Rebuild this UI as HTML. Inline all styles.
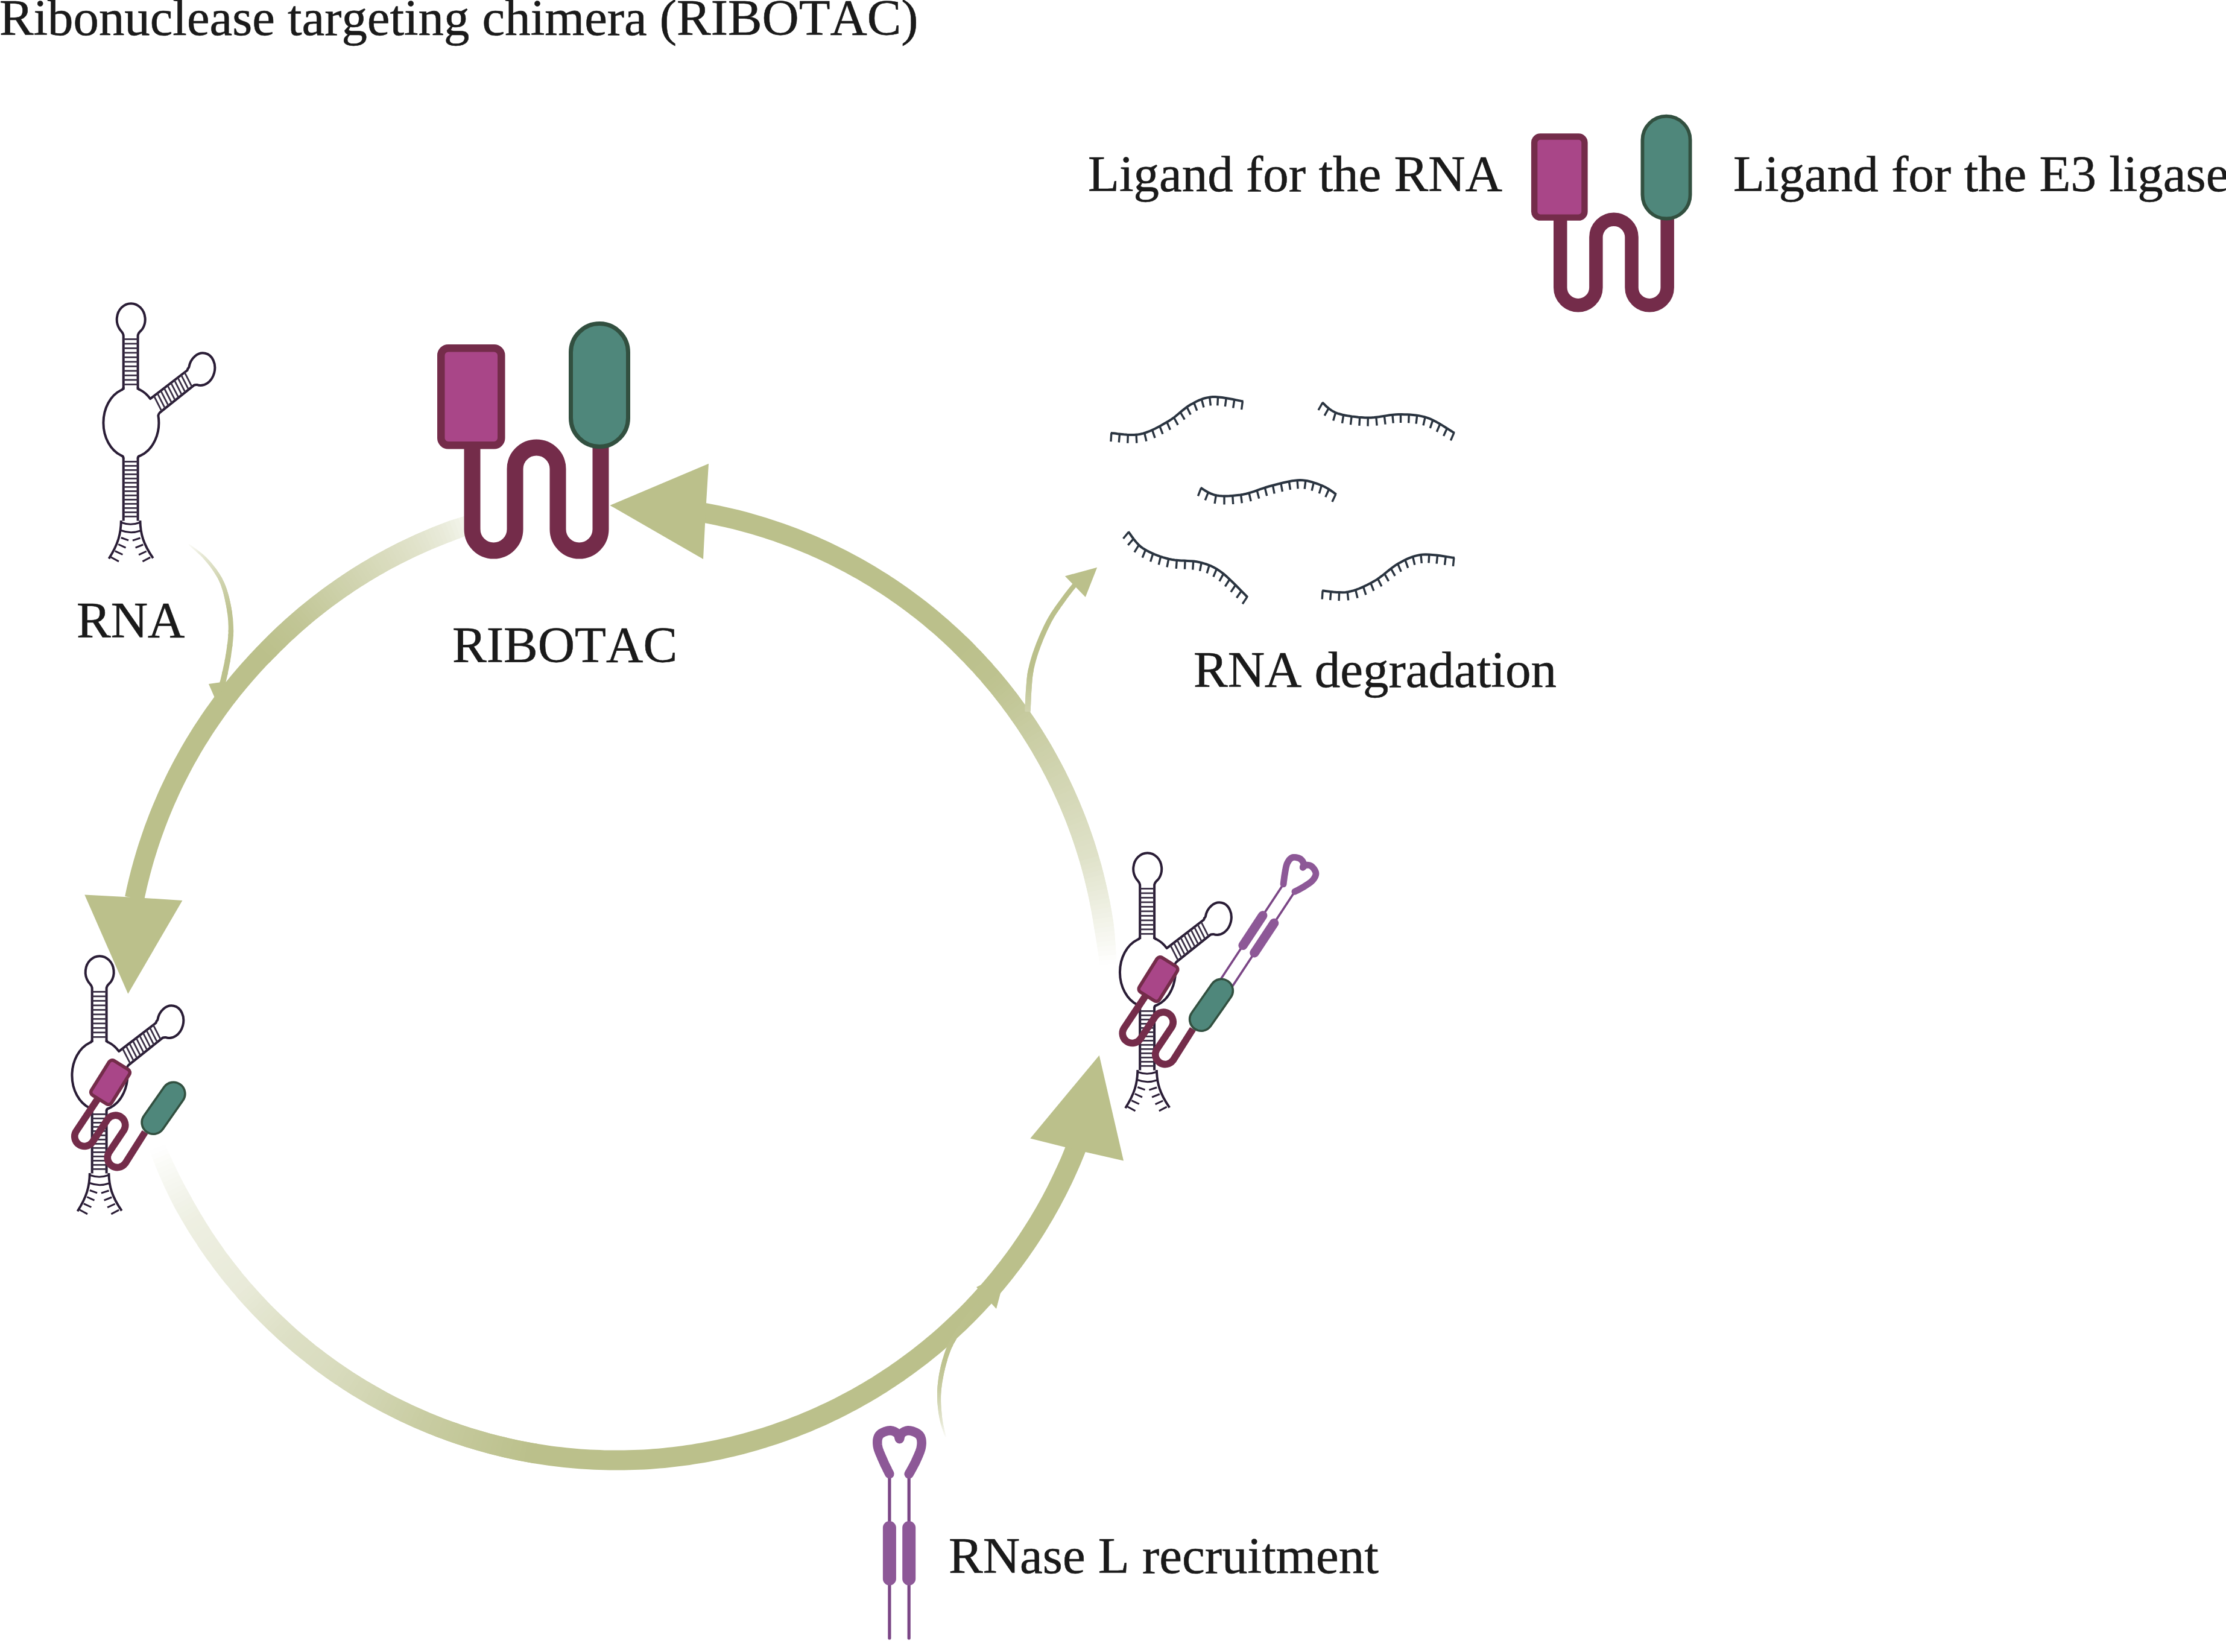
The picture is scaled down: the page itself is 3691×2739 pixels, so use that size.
<!DOCTYPE html>
<html><head><meta charset="utf-8"><title>RIBOTAC</title>
<style>html,body{margin:0;padding:0;background:#fff}body{width:3691px;height:2739px;overflow:hidden}svg{display:block}</style>
</head><body>
<svg width="3691" height="2739" viewBox="0 0 3691 2739">
<defs><g id="ribo">
<path d="M783,740 V877.5 A35.5,35.5 0 0 0 854,877.5 V777.5 A35.5,35.5 0 0 1 925,777.5 V877.5 A35.5,35.5 0 0 0 996,877.5 V740" fill="none" stroke="#742c4a" stroke-width="27"/>
<rect x="731.25" y="577.25" width="100" height="161" rx="12" fill="#a94688" stroke="#742c4a" stroke-width="12.5"/>
<rect x="946.5" y="536.5" width="95" height="204" rx="47.5" fill="#4f877b" stroke="#325040" stroke-width="7"/>
</g><g id="rna" fill="none" stroke="#2a1d36" stroke-width="4.0" stroke-linecap="butt" stroke-linejoin="round"><path d="M204.7,646 V557 C204.7,551 200,549 198,545 A23.5,26.5 0 1 1 236.4,545 C234,549 228.6,551 228.6,557 V646"/><path d="M204.7,642 C204.7,645.5 203,646.2 201,646.7 A45.6,58 0 0 0 201,755.3 C203,755.8 204.7,756.5 204.7,760"/><path d="M228.6,642 C228.6,645 230,645.8 232,646.2 A45.6,58 0 0 1 249.2,661.2 L310.5,614 C311.5,611 312,610 313.2,609.3 A21.5,27 12 1 1 326.5,637.9 C325,638 323,638 321.8,638.6 L265.2,683.9 C263.5,685.5 262.8,687 262.4,689 A45.6,58 0 0 1 232,755.8 C230,756.2 228.6,757 228.6,760"/><path d="M204.7,759 V863.6 M228.6,759 V863.6"/><path d="M200.8,863 C200.5,885 196,902 180.5,926.3 M232.4,863 C232.8,885 237.5,902 253.8,925.4" stroke-width="3.9"/><path d="M201.7,866.5 Q216.5,872 231.4,866.5 M200.8,879.5 Q216.5,885.5 232.6,880" stroke-width="3"/><path d="M200.8,891.5 L213.1,895.8 M196.2,902.5 L208.5,908.1 M190.7,913.6 L203.4,919.5 M183.9,923.7 L197.0,930.9 M232.6,892.0 L219.9,896.2 M237.3,903.0 L224.6,908.1 M242.8,914.0 L230.1,919.9 M249.2,924.2 L236.4,930.9" stroke-width="3"/><path d="M216.65,561 V642" stroke-width="23.9" stroke-dasharray="2.8 4.7" stroke="#3a2f45"/><path d="M216.65,764 V862" stroke-width="23.9" stroke-dasharray="2.8 4.2" stroke="#3a2f45"/><path d="M255.3,656.5 L268.1,681.6 M261.0,652.1 L273.7,677.1 M266.6,647.8 L279.3,672.6 M272.2,643.5 L284.8,668.2 M277.9,639.1 L290.4,663.7 M283.5,634.8 L296.0,659.2 M289.2,630.4 L301.6,654.8 M294.8,626.1 L307.2,650.3 M300.4,621.7 L312.7,645.9 M306.1,617.4 L318.3,641.4" stroke-width="2.8" stroke="#3a2f45"/></g><g id="mini">
<path d="M214,740 L178,794 A16.25,16.25 0 0 0 205,812 L230.5,773.7 A16.25,16.25 0 0 1 257.5,791.7 L232.5,829.1 A16.25,16.25 0 0 0 259.5,847.1 L292.5,795" fill="none" stroke="#742c4a" stroke-width="11.6"/>
<rect x="-19.7" y="-33.7" width="39.4" height="67.4" rx="6" transform="translate(235,712.5) rotate(32)" fill="#a94688" stroke="#742c4a" stroke-width="5.6"/>
<rect x="-19.2" y="-48.2" width="38.4" height="96.4" rx="19.2" transform="translate(323,755.3) rotate(35)" fill="#4f877b" stroke="#325040" stroke-width="3.6"/>
</g><g id="rnasel" fill="none" stroke-linecap="round" stroke-linejoin="round">
<path d="M1474.9,2440 V2716 M1507.2,2440 V2716" stroke="#7b4686" stroke-width="5.2"/>
<path d="M1474.9,2533 V2617.5 M1507.2,2533 V2617.5" stroke="#8d5897" stroke-width="22"/>
<path d="M1474.9,2443.8 L1474.1,2442.1 L1473.0,2440.0 L1471.7,2437.4 L1470.3,2434.4 L1468.8,2431.4 L1467.2,2428.2 L1465.8,2425.1 L1464.5,2422.1 L1463.2,2419.1 L1461.8,2416.1 L1460.5,2412.9 L1459.1,2409.8 L1457.9,2406.7 L1456.8,2403.6 L1455.9,2400.7 L1455.3,2397.9 L1455.0,2395.3 L1454.8,2392.7 L1454.8,2390.3 L1454.9,2387.9 L1455.3,2385.6 L1455.9,2383.5 L1456.7,2381.6 L1457.7,2379.8 L1459.1,2378.3 L1460.9,2376.8 L1463.0,2375.6 L1465.3,2374.4 L1467.6,2373.5 L1469.9,2372.8 L1472.1,2372.2 L1474.1,2371.9 L1476.0,2371.8 L1477.9,2372.0 L1479.8,2372.4 L1481.6,2373.0 L1483.3,2373.7 L1484.8,2374.5 L1486.2,2375.4 L1487.4,2376.2 L1488.4,2377.2 L1489.2,2378.4 L1489.8,2379.7 L1490.3,2381.1 L1490.7,2382.4 L1491.0,2383.6 L1491.3,2384.6 L1491.5,2385.4" stroke="#8d5897" stroke-width="15.5"/>
<path d="M1507.2,2443.8 L1508.1,2442.1 L1509.4,2440.0 L1510.8,2437.4 L1512.5,2434.4 L1514.1,2431.4 L1515.8,2428.2 L1517.4,2425.1 L1518.8,2422.1 L1520.1,2419.1 L1521.5,2416.1 L1522.9,2412.9 L1524.2,2409.8 L1525.4,2406.7 L1526.4,2403.6 L1527.2,2400.7 L1527.7,2397.9 L1528.0,2395.3 L1528.2,2392.7 L1528.1,2390.3 L1527.9,2387.9 L1527.5,2385.6 L1526.8,2383.5 L1526.0,2381.6 L1524.8,2379.8 L1523.4,2378.3 L1521.5,2376.8 L1519.3,2375.6 L1517.0,2374.4 L1514.6,2373.5 L1512.2,2372.8 L1509.9,2372.2 L1507.9,2371.9 L1506.1,2371.8 L1504.3,2372.0 L1502.5,2372.4 L1500.9,2373.0 L1499.3,2373.7 L1497.8,2374.5 L1496.5,2375.4 L1495.4,2376.2 L1494.5,2377.2 L1493.7,2378.4 L1493.1,2379.7 L1492.7,2381.1 L1492.3,2382.4 L1492.0,2383.6 L1491.8,2384.6 L1491.5,2385.4" stroke="#8d5897" stroke-width="15.5"/>
</g></defs>
<rect width="3691" height="2739" fill="#fff"/>
<polygon points="1851.2,1598.5 1850.9,1590.6 1850.6,1582.7 1821.5,1585.2 1822.4,1592.8 1823.2,1600.5" fill="#fefefe"/>
<polygon points="1850.9,1590.6 1850.6,1582.7 1850.2,1574.8 1820.5,1577.6 1821.5,1585.2 1822.4,1592.8" fill="#fdfdfb"/>
<polygon points="1850.6,1582.7 1850.2,1574.8 1849.7,1566.9 1819.4,1570.0 1820.5,1577.6 1821.5,1585.2" fill="#fbfbf8"/>
<polygon points="1850.2,1574.8 1849.7,1566.9 1849.1,1558.9 1818.3,1562.5 1819.4,1570.0 1820.5,1577.6" fill="#fafaf6"/>
<polygon points="1849.7,1566.9 1849.1,1558.9 1848.5,1551.0 1817.1,1554.9 1818.3,1562.5 1819.4,1570.0" fill="#f8f9f3"/>
<polygon points="1849.1,1558.9 1848.5,1551.0 1847.7,1543.1 1815.8,1547.4 1817.1,1554.9 1818.3,1562.5" fill="#f7f7f1"/>
<polygon points="1848.5,1551.0 1847.7,1543.1 1846.9,1535.2 1814.5,1539.9 1815.8,1547.4 1817.1,1554.9" fill="#f6f6ef"/>
<polygon points="1847.7,1543.1 1846.9,1535.2 1845.9,1527.3 1813.3,1532.3 1814.5,1539.9 1815.8,1547.4" fill="#f4f5ed"/>
<polygon points="1846.9,1535.2 1845.9,1527.3 1844.6,1519.5 1812.1,1524.8 1813.3,1532.3 1814.5,1539.9" fill="#f3f4ea"/>
<polygon points="1845.9,1527.3 1844.6,1519.5 1843.3,1511.6 1810.8,1517.3 1812.1,1524.8 1813.3,1532.3" fill="#f2f3e8"/>
<polygon points="1844.6,1519.5 1843.3,1511.6 1841.9,1503.8 1809.5,1509.8 1810.8,1517.3 1812.1,1524.8" fill="#f0f1e6"/>
<polygon points="1843.3,1511.6 1841.9,1503.8 1840.5,1496.0 1808.0,1502.3 1809.5,1509.8 1810.8,1517.3" fill="#eff0e4"/>
<polygon points="1841.9,1503.8 1840.5,1496.0 1838.9,1488.2 1806.6,1494.8 1808.0,1502.3 1809.5,1509.8" fill="#eeefe1"/>
<polygon points="1840.5,1496.0 1838.9,1488.2 1837.3,1480.4 1805.0,1487.3 1806.6,1494.8 1808.0,1502.3" fill="#eceedf"/>
<polygon points="1838.9,1488.2 1837.3,1480.4 1835.6,1472.7 1803.4,1479.8 1805.0,1487.3 1806.6,1494.8" fill="#ebecdd"/>
<polygon points="1837.3,1480.4 1835.6,1472.7 1833.8,1464.9 1801.7,1472.4 1803.4,1479.8 1805.0,1487.3" fill="#eaebdb"/>
<polygon points="1835.6,1472.7 1833.8,1464.9 1832.0,1457.2 1799.9,1465.0 1801.7,1472.4 1803.4,1479.8" fill="#e8ead8"/>
<polygon points="1833.8,1464.9 1832.0,1457.2 1830.1,1449.5 1798.1,1457.6 1799.9,1465.0 1801.7,1472.4" fill="#e7e9d6"/>
<polygon points="1832.0,1457.2 1830.1,1449.5 1828.1,1441.8 1796.2,1450.2 1798.1,1457.6 1799.9,1465.0" fill="#e6e8d4"/>
<polygon points="1830.1,1449.5 1828.1,1441.8 1826.1,1434.1 1794.2,1442.8 1796.2,1450.2 1798.1,1457.6" fill="#e4e6d2"/>
<polygon points="1828.1,1441.8 1826.1,1434.1 1823.9,1426.4 1792.2,1435.4 1794.2,1442.8 1796.2,1450.2" fill="#e3e5cf"/>
<polygon points="1826.1,1434.1 1823.9,1426.4 1821.7,1418.8 1790.1,1428.1 1792.2,1435.4 1794.2,1442.8" fill="#e2e4cd"/>
<polygon points="1823.9,1426.4 1821.7,1418.8 1819.4,1411.2 1787.9,1420.8 1790.1,1428.1 1792.2,1435.4" fill="#e0e3cb"/>
<polygon points="1821.7,1418.8 1819.4,1411.2 1817.1,1403.6 1785.6,1413.5 1787.9,1420.8 1790.1,1428.1" fill="#dfe1c8"/>
<polygon points="1819.4,1411.2 1817.1,1403.6 1814.7,1396.0 1783.3,1406.2 1785.6,1413.5 1787.9,1420.8" fill="#dee1c7"/>
<polygon points="1817.1,1403.6 1814.7,1396.0 1812.2,1388.5 1780.9,1399.0 1783.3,1406.2 1785.6,1413.5" fill="#dee0c6"/>
<polygon points="1814.7,1396.0 1812.2,1388.5 1809.6,1381.0 1778.4,1391.8 1780.9,1399.0 1783.3,1406.2" fill="#dddfc5"/>
<polygon points="1812.2,1388.5 1809.6,1381.0 1807.0,1373.5 1775.9,1384.6 1778.4,1391.8 1780.9,1399.0" fill="#dcdfc3"/>
<polygon points="1809.6,1381.0 1807.0,1373.5 1804.3,1366.0 1773.3,1377.4 1775.9,1384.6 1778.4,1391.8" fill="#dbdec2"/>
<polygon points="1807.0,1373.5 1804.3,1366.0 1801.5,1358.6 1770.6,1370.2 1773.3,1377.4 1775.9,1384.6" fill="#dbddc1"/>
<polygon points="1804.3,1366.0 1801.5,1358.6 1798.6,1351.1 1767.9,1363.1 1770.6,1370.2 1773.3,1377.4" fill="#daddc0"/>
<polygon points="1801.5,1358.6 1798.6,1351.1 1795.7,1343.7 1765.1,1356.0 1767.9,1363.1 1770.6,1370.2" fill="#d9dcbe"/>
<polygon points="1798.6,1351.1 1795.7,1343.7 1792.7,1336.4 1762.2,1348.9 1765.1,1356.0 1767.9,1363.1" fill="#d8dbbd"/>
<polygon points="1795.7,1343.7 1792.7,1336.4 1789.7,1329.0 1759.3,1341.9 1762.2,1348.9 1765.1,1356.0" fill="#d8dabc"/>
<polygon points="1792.7,1336.4 1789.7,1329.0 1786.5,1321.7 1756.3,1334.9 1759.3,1341.9 1762.2,1348.9" fill="#d7daba"/>
<polygon points="1789.7,1329.0 1786.5,1321.7 1783.3,1314.5 1753.2,1327.9 1756.3,1334.9 1759.3,1341.9" fill="#d6d9b9"/>
<polygon points="1786.5,1321.7 1783.3,1314.5 1780.1,1307.2 1750.0,1321.0 1753.2,1327.9 1756.3,1334.9" fill="#d5d8b8"/>
<polygon points="1783.3,1314.5 1780.1,1307.2 1776.7,1300.0 1746.8,1314.0 1750.0,1321.0 1753.2,1327.9" fill="#d5d8b7"/>
<polygon points="1780.1,1307.2 1776.7,1300.0 1773.3,1292.8 1743.6,1307.1 1746.8,1314.0 1750.0,1321.0" fill="#d4d7b5"/>
<polygon points="1776.7,1300.0 1773.3,1292.8 1769.8,1285.7 1740.2,1300.3 1743.6,1307.1 1746.8,1314.0" fill="#d3d6b4"/>
<polygon points="1773.3,1292.8 1769.8,1285.7 1766.3,1278.6 1736.8,1293.4 1740.2,1300.3 1743.6,1307.1" fill="#d2d6b3"/>
<polygon points="1769.8,1285.7 1766.3,1278.6 1762.7,1271.5 1733.3,1286.6 1736.8,1293.4 1740.2,1300.3" fill="#d2d5b2"/>
<polygon points="1766.3,1278.6 1762.7,1271.5 1759.0,1264.5 1729.8,1279.9 1733.3,1286.6 1736.8,1293.4" fill="#d1d4b0"/>
<polygon points="1762.7,1271.5 1759.0,1264.5 1755.2,1257.4 1726.2,1273.1 1729.8,1279.9 1733.3,1286.6" fill="#d0d4af"/>
<polygon points="1759.0,1264.5 1755.2,1257.4 1751.4,1250.5 1722.6,1266.4 1726.2,1273.1 1729.8,1279.9" fill="#cfd3ae"/>
<polygon points="1755.2,1257.4 1751.4,1250.5 1747.5,1243.5 1718.8,1259.8 1722.6,1266.4 1726.2,1273.1" fill="#cfd2ac"/>
<polygon points="1751.4,1250.5 1747.5,1243.5 1743.6,1236.6 1715.0,1253.2 1718.8,1259.8 1722.6,1266.4" fill="#ced1ab"/>
<polygon points="1747.5,1243.5 1743.6,1236.6 1739.6,1229.8 1711.2,1246.6 1715.0,1253.2 1718.8,1259.8" fill="#cdd1aa"/>
<polygon points="1743.6,1236.6 1739.6,1229.8 1735.5,1223.0 1707.3,1240.0 1711.2,1246.6 1715.0,1253.2" fill="#ccd0a9"/>
<polygon points="1739.6,1229.8 1735.5,1223.0 1731.4,1216.2 1703.3,1233.5 1707.3,1240.0 1711.2,1246.6" fill="#cccfa7"/>
<polygon points="1735.5,1223.0 1731.4,1216.2 1727.2,1209.4 1699.2,1227.0 1703.3,1233.5 1707.3,1240.0" fill="#cbcfa6"/>
<polygon points="1731.4,1216.2 1727.2,1209.4 1722.9,1202.7 1695.1,1220.6 1699.2,1227.0 1703.3,1233.5" fill="#cacea5"/>
<polygon points="1727.2,1209.4 1722.9,1202.7 1718.6,1196.1 1691.0,1214.2 1695.1,1220.6 1699.2,1227.0" fill="#c9cda3"/>
<polygon points="1722.9,1202.7 1718.6,1196.1 1714.2,1189.4 1686.8,1207.8 1691.0,1214.2 1695.1,1220.6" fill="#c8cca2"/>
<polygon points="1718.6,1196.1 1714.2,1189.4 1709.7,1182.9 1682.5,1201.5 1686.8,1207.8 1691.0,1214.2" fill="#c8cca1"/>
<polygon points="1714.2,1189.4 1709.7,1182.9 1705.2,1176.3 1678.1,1195.2 1682.5,1201.5 1686.8,1207.8" fill="#c7cb9f"/>
<polygon points="1709.7,1182.9 1705.2,1176.3 1700.6,1169.8 1673.7,1189.0 1678.1,1195.2 1682.5,1201.5" fill="#c6ca9e"/>
<polygon points="1705.2,1176.3 1700.6,1169.8 1695.9,1163.4 1669.3,1182.8 1673.7,1189.0 1678.1,1195.2" fill="#c5c99c"/>
<polygon points="1700.6,1169.8 1695.9,1163.4 1691.2,1157.0 1664.7,1176.7 1669.3,1182.8 1673.7,1189.0" fill="#c4c99b"/>
<polygon points="1695.9,1163.4 1691.2,1157.0 1686.5,1150.6 1660.2,1170.6 1664.7,1176.7 1669.3,1182.8" fill="#c3c899"/>
<polygon points="1691.2,1157.0 1686.5,1150.6 1681.6,1144.3 1655.5,1164.5 1660.2,1170.6 1664.7,1176.7" fill="#c3c798"/>
<polygon points="1686.5,1150.6 1681.6,1144.3 1676.7,1138.1 1650.8,1158.5 1655.5,1164.5 1660.2,1170.6" fill="#c2c697"/>
<polygon points="1681.6,1144.3 1676.7,1138.1 1671.8,1131.8 1646.1,1152.5 1650.8,1158.5 1655.5,1164.5" fill="#c1c695"/>
<polygon points="1676.7,1138.1 1671.8,1131.8 1666.8,1125.7 1641.3,1146.6 1646.1,1152.5 1650.8,1158.5" fill="#c0c594"/>
<polygon points="1671.8,1131.8 1666.8,1125.7 1661.7,1119.6 1636.4,1140.7 1641.3,1146.6 1646.1,1152.5" fill="#bfc492"/>
<polygon points="1666.8,1125.7 1661.7,1119.6 1656.6,1113.5 1631.5,1134.9 1636.4,1140.7 1641.3,1146.6" fill="#bfc391"/>
<polygon points="1661.7,1119.6 1656.6,1113.5 1651.4,1107.5 1626.5,1129.1 1631.5,1134.9 1636.4,1140.7" fill="#bec390"/>
<polygon points="1656.6,1113.5 1651.4,1107.5 1646.2,1101.5 1640.9,1095.6 1616.4,1117.7 1621.5,1123.4 1626.5,1129.1 1631.5,1134.9" fill="#bdc28f"/>
<polygon points="1646.2,1101.5 1640.9,1095.6 1635.5,1089.7 1630.1,1083.9 1606.0,1106.4 1611.2,1112.0 1616.4,1117.7 1621.5,1123.4" fill="#bdc28e"/>
<polygon points="1635.5,1089.7 1630.1,1083.9 1624.6,1078.1 1600.8,1100.9 1606.0,1106.4 1611.2,1112.0" fill="#bcc18e"/>
<polygon points="1630.1,1083.9 1624.6,1078.1 1619.1,1072.4 1613.6,1066.7 1590.1,1090.0 1595.5,1095.4 1600.8,1100.9 1606.0,1106.4" fill="#bcc18d"/>
<polygon points="1619.1,1072.4 1613.6,1066.7 1607.9,1061.1 1584.7,1084.6 1590.1,1090.0 1595.5,1095.4" fill="#bcc18c"/>
<polygon points="1613.6,1066.7 1607.9,1061.1 1602.2,1055.5 1579.3,1079.2 1584.7,1084.6 1590.1,1090.0" fill="#bbc08c"/>
<polygon points="1607.9,1061.1 1602.2,1055.5 1596.5,1050.0 1590.7,1044.6 1584.9,1039.2 1579.0,1033.9 1573.1,1028.6 1567.1,1023.4 1561.0,1018.2 1554.9,1013.1 1548.8,1008.0 1542.6,1003.0 1536.4,998.1 1530.1,993.2 1523.8,988.4 1517.4,983.7 1511.0,979.0 1504.5,974.3 1498.0,969.8 1491.5,965.3 1484.9,960.8 1478.3,956.5 1471.6,952.1 1464.9,947.9 1458.1,943.7 1451.3,939.6 1444.5,935.5 1437.6,931.5 1430.7,927.6 1423.8,923.7 1416.8,919.9 1409.8,916.2 1402.7,912.6 1395.6,909.0 1388.5,905.4 1381.4,902.0 1374.2,898.6 1366.9,895.3 1359.7,892.0 1352.4,888.8 1345.1,885.7 1337.8,882.7 1330.4,879.7 1323.0,876.8 1315.6,874.0 1308.1,871.2 1300.6,868.5 1293.1,865.9 1285.6,863.4 1278.0,860.9 1270.5,858.5 1262.9,856.2 1255.2,853.9 1247.6,851.7 1239.9,849.6 1232.3,847.6 1224.6,845.6 1216.8,843.7 1209.1,841.9 1201.3,840.2 1193.6,838.5 1185.8,836.9 1178.0,835.4 1170.3,834.0 1164.3,866.4 1171.8,867.8 1179.3,869.3 1186.8,870.8 1194.3,872.4 1201.7,874.1 1209.1,875.8 1216.6,877.6 1224.0,879.5 1231.3,881.5 1238.7,883.5 1246.0,885.6 1253.3,887.8 1260.6,890.0 1267.9,892.3 1275.2,894.7 1282.4,897.1 1289.6,899.7 1296.8,902.2 1304.0,904.9 1311.1,907.6 1318.2,910.4 1325.3,913.2 1332.3,916.2 1339.3,919.1 1346.3,922.2 1353.3,925.3 1360.2,928.5 1367.1,931.8 1374.0,935.1 1380.9,938.5 1387.7,941.9 1394.4,945.4 1401.2,949.0 1407.9,952.7 1414.6,956.4 1421.2,960.1 1427.8,964.0 1434.4,967.9 1440.9,971.8 1447.4,975.9 1453.8,979.9 1460.2,984.1 1466.6,988.3 1472.9,992.6 1479.2,996.9 1485.5,1001.3 1491.7,1005.7 1497.8,1010.2 1503.9,1014.8 1510.0,1019.4 1516.0,1024.1 1522.0,1028.8 1528.0,1033.6 1533.9,1038.5 1539.7,1043.4 1545.5,1048.3 1551.3,1053.3 1557.0,1058.4 1562.6,1063.5 1568.2,1068.7 1573.8,1074.0 1579.3,1079.2 1584.7,1084.6" fill="#bbc08b"/>
<polygon points="1011.4,837.9 1175,768.8 1170,850 1166,926.9" fill="#bbc08b"/>
<polygon points="789.1,850.6 781.8,852.6 774.5,854.6 784.0,884.1 791.0,881.7 798.0,879.2" fill="#f7f8f2"/>
<polygon points="781.8,852.6 774.5,854.6 767.2,856.8 777.1,886.7 784.0,884.1 791.0,881.7" fill="#f6f6ef"/>
<polygon points="774.5,854.6 767.2,856.8 759.9,859.0 770.3,889.3 777.1,886.7 784.0,884.1" fill="#f4f5ed"/>
<polygon points="767.2,856.8 759.9,859.0 752.6,861.3 763.4,891.9 770.3,889.3 777.1,886.7" fill="#f3f4ea"/>
<polygon points="759.9,859.0 752.6,861.3 745.3,863.6 756.6,894.6 763.4,891.9 770.3,889.3" fill="#f0f2e6"/>
<polygon points="752.6,861.3 745.3,863.6 738.1,866.3 749.7,897.2 756.6,894.6 763.4,891.9" fill="#eef0e3"/>
<polygon points="745.3,863.6 738.1,866.3 731.0,869.0 742.8,899.8 749.7,897.2 756.6,894.6" fill="#eceedf"/>
<polygon points="738.1,866.3 731.0,869.0 723.9,871.8 736.0,902.4 742.8,899.8 749.7,897.2" fill="#eaecdc"/>
<polygon points="731.0,869.0 723.9,871.8 716.8,874.6 729.2,905.2 736.0,902.4 742.8,899.8" fill="#e9ead9"/>
<polygon points="723.9,871.8 716.8,874.6 709.7,877.5 722.4,908.0 729.2,905.2 736.0,902.4" fill="#e7e9d7"/>
<polygon points="716.8,874.6 709.7,877.5 702.7,880.5 715.7,910.8 722.4,908.0 729.2,905.2" fill="#e6e8d5"/>
<polygon points="709.7,877.5 702.7,880.5 695.7,883.5 708.9,913.7 715.7,910.8 722.4,908.0" fill="#e5e7d2"/>
<polygon points="702.7,880.5 695.7,883.5 688.7,886.6 702.2,916.7 708.9,913.7 715.7,910.8" fill="#e3e5d0"/>
<polygon points="695.7,883.5 688.7,886.6 681.8,889.8 695.6,919.7 702.2,916.7 708.9,913.7" fill="#e2e4ce"/>
<polygon points="688.7,886.6 681.8,889.8 674.9,893.0 688.9,922.8 695.6,919.7 702.2,916.7" fill="#e1e3cb"/>
<polygon points="681.8,889.8 674.9,893.0 668.0,896.3 682.3,926.0 688.9,922.8 695.6,919.7" fill="#e0e2c9"/>
<polygon points="674.9,893.0 668.0,896.3 661.1,899.6 675.7,929.2 682.3,926.0 688.9,922.8" fill="#dfe1c8"/>
<polygon points="668.0,896.3 661.1,899.6 654.3,903.1 669.1,932.5 675.7,929.2 682.3,926.0" fill="#dee0c6"/>
<polygon points="661.1,899.6 654.3,903.1 647.5,906.5 662.6,935.8 669.1,932.5 675.7,929.2" fill="#dddfc4"/>
<polygon points="654.3,903.1 647.5,906.5 640.7,910.1 656.1,939.2 662.6,935.8 669.1,932.5" fill="#dcdec3"/>
<polygon points="647.5,906.5 640.7,910.1 634.0,913.7 649.7,942.6 656.1,939.2 662.6,935.8" fill="#dbddc1"/>
<polygon points="640.7,910.1 634.0,913.7 627.3,917.3 643.2,946.1 649.7,942.6 656.1,939.2" fill="#dadcbf"/>
<polygon points="634.0,913.7 627.3,917.3 620.7,921.0 636.9,949.7 643.2,946.1 649.7,942.6" fill="#d9dbbd"/>
<polygon points="627.3,917.3 620.7,921.0 614.0,924.8 630.5,953.3 636.9,949.7 643.2,946.1" fill="#d8dbbc"/>
<polygon points="620.7,921.0 614.0,924.8 607.5,928.7 624.2,957.0 630.5,953.3 636.9,949.7" fill="#d7daba"/>
<polygon points="614.0,924.8 607.5,928.7 600.9,932.6 617.9,960.8 624.2,957.0 630.5,953.3" fill="#d6d9b8"/>
<polygon points="607.5,928.7 600.9,932.6 594.4,936.5 611.6,964.6 617.9,960.8 624.2,957.0" fill="#d5d8b7"/>
<polygon points="600.9,932.6 594.4,936.5 587.9,940.5 605.4,968.4 611.6,964.6 617.9,960.8" fill="#d4d7b5"/>
<polygon points="594.4,936.5 587.9,940.5 581.5,944.6 599.2,972.3 605.4,968.4 611.6,964.6" fill="#d3d6b4"/>
<polygon points="587.9,940.5 581.5,944.6 575.1,948.7 593.1,976.3 599.2,972.3 605.4,968.4" fill="#d2d5b2"/>
<polygon points="581.5,944.6 575.1,948.7 568.7,952.9 586.9,980.3 593.1,976.3 599.2,972.3" fill="#d1d4b0"/>
<polygon points="575.1,948.7 568.7,952.9 562.4,957.2 580.9,984.4 586.9,980.3 593.1,976.3" fill="#d0d3af"/>
<polygon points="568.7,952.9 562.4,957.2 556.1,961.5 574.8,988.5 580.9,984.4 586.9,980.3" fill="#cfd2ad"/>
<polygon points="562.4,957.2 556.1,961.5 549.9,965.9 568.8,992.7 574.8,988.5 580.9,984.4" fill="#ced2ab"/>
<polygon points="556.1,961.5 549.9,965.9 543.7,970.3 562.9,997.0 568.8,992.7 574.8,988.5" fill="#cdd1aa"/>
<polygon points="549.9,965.9 543.7,970.3 537.5,974.8 557.0,1001.3 562.9,997.0 568.8,992.7" fill="#ccd0a8"/>
<polygon points="543.7,970.3 537.5,974.8 531.4,979.3 551.1,1005.6 557.0,1001.3 562.9,997.0" fill="#cbcfa6"/>
<polygon points="537.5,974.8 531.4,979.3 525.3,983.9 545.2,1010.0 551.1,1005.6 557.0,1001.3" fill="#cacea5"/>
<polygon points="531.4,979.3 525.3,983.9 519.3,988.5 539.4,1014.5 545.2,1010.0 551.1,1005.6" fill="#c9cda3"/>
<polygon points="525.3,983.9 519.3,988.5 513.3,993.2 533.7,1019.0 539.4,1014.5 545.2,1010.0" fill="#c8cca1"/>
<polygon points="519.3,988.5 513.3,993.2 507.4,998.0 528.0,1023.5 533.7,1019.0 539.4,1014.5" fill="#c7cb9f"/>
<polygon points="513.3,993.2 507.4,998.0 501.5,1002.8 522.3,1028.1 528.0,1023.5 533.7,1019.0" fill="#c6ca9e"/>
<polygon points="507.4,998.0 501.5,1002.8 495.6,1007.6 516.7,1032.8 522.3,1028.1 528.0,1023.5" fill="#c5c99c"/>
<polygon points="501.5,1002.8 495.6,1007.6 489.8,1012.5 511.1,1037.5 516.7,1032.8 522.3,1028.1" fill="#c4c89a"/>
<polygon points="495.6,1007.6 489.8,1012.5 484.0,1017.5 505.6,1042.3 511.1,1037.5 516.7,1032.8" fill="#c3c798"/>
<polygon points="489.8,1012.5 484.0,1017.5 478.3,1022.5 500.1,1047.1 505.6,1042.3 511.1,1037.5" fill="#c2c697"/>
<polygon points="484.0,1017.5 478.3,1022.5 472.6,1027.6 494.6,1051.9 500.1,1047.1 505.6,1042.3" fill="#c1c595"/>
<polygon points="478.3,1022.5 472.6,1027.6 467.0,1032.7 489.2,1056.9 494.6,1051.9 500.1,1047.1" fill="#c0c594"/>
<polygon points="472.6,1027.6 467.0,1032.7 461.4,1037.8 483.8,1061.8 489.2,1056.9 494.6,1051.9" fill="#c0c493"/>
<polygon points="467.0,1032.7 461.4,1037.8 455.9,1043.0 478.5,1066.8 483.8,1061.8 489.2,1056.9" fill="#bfc492"/>
<polygon points="461.4,1037.8 455.9,1043.0 450.4,1048.3 473.3,1071.9 478.5,1066.8 483.8,1061.8" fill="#bfc391"/>
<polygon points="455.9,1043.0 450.4,1048.3 445.0,1053.6 468.0,1077.0 473.3,1071.9 478.5,1066.8" fill="#bec390"/>
<polygon points="450.4,1048.3 445.0,1053.6 439.6,1059.0 462.9,1082.1 468.0,1077.0 473.3,1071.9" fill="#bdc28f"/>
<polygon points="445.0,1053.6 439.6,1059.0 434.3,1064.3 457.7,1087.4 462.9,1082.1 468.0,1077.0" fill="#bdc28e"/>
<polygon points="439.6,1059.0 434.3,1064.3 429.1,1069.7 452.5,1092.6 457.7,1087.4 462.9,1082.1" fill="#bcc18d"/>
<polygon points="434.3,1064.3 429.1,1069.7 423.8,1075.1 447.4,1097.9 452.5,1092.6 457.7,1087.4" fill="#bcc18c"/>
<polygon points="429.1,1069.7 423.8,1075.1 418.5,1080.6 413.3,1086.1 408.2,1091.7 403.1,1097.3 398.0,1103.0 393.0,1108.7 388.1,1114.5 383.2,1120.3 378.4,1126.2 373.6,1132.1 368.9,1138.0 364.2,1144.0 359.6,1150.0 355.0,1156.1 350.5,1162.2 346.0,1168.4 341.6,1174.6 337.3,1180.8 333.0,1187.1 328.8,1193.4 324.6,1199.7 320.5,1206.1 316.5,1212.6 312.5,1219.0 308.5,1225.5 304.7,1232.1 300.9,1238.6 297.1,1245.2 293.4,1251.9 289.8,1258.5 286.2,1265.2 282.7,1272.0 279.2,1278.7 275.9,1285.5 272.5,1292.4 269.3,1299.2 266.1,1306.1 262.9,1313.0 259.9,1320.0 256.9,1327.0 253.9,1334.0 251.0,1341.0 248.2,1348.0 245.5,1355.1 242.8,1362.2 240.1,1369.3 237.6,1376.5 235.1,1383.7 232.7,1390.9 230.3,1398.1 228.0,1405.3 225.8,1412.6 223.6,1419.9 221.5,1427.2 219.5,1434.5 217.5,1441.8 215.6,1449.2 213.8,1456.5 212.0,1463.9 210.3,1471.3 208.7,1478.8 207.2,1486.1 239.0,1492.8 240.5,1485.6 242.1,1478.5 243.7,1471.3 245.4,1464.2 247.2,1457.2 249.0,1450.1 250.9,1443.0 252.8,1436.0 254.8,1429.0 256.9,1422.0 259.1,1415.0 261.3,1408.1 263.6,1401.1 265.9,1394.2 268.3,1387.3 270.8,1380.5 273.3,1373.6 275.9,1366.8 278.5,1360.0 281.2,1353.2 284.0,1346.5 286.8,1339.7 289.7,1333.0 292.7,1326.4 295.7,1319.7 298.8,1313.1 301.9,1306.5 305.1,1300.0 308.4,1293.4 311.7,1286.9 315.1,1280.5 318.5,1274.0 322.0,1267.6 325.6,1261.2 329.2,1254.9 332.8,1248.6 336.6,1242.3 340.3,1236.1 344.2,1229.9 348.1,1223.7 352.0,1217.6 356.0,1211.5 360.1,1205.4 364.2,1199.4 368.4,1193.4 372.6,1187.4 376.9,1181.5 381.2,1175.7 385.6,1169.8 390.1,1164.0 394.6,1158.3 399.1,1152.6 403.7,1146.9 408.4,1141.3 413.1,1135.7 417.8,1130.2 422.6,1124.7 427.5,1119.2 432.4,1113.8 437.3,1108.5 442.3,1103.1 447.4,1097.9 452.5,1092.6" fill="#bbc08b"/>
<polygon points="140.3,1483.5 225,1488 302.4,1493 212.3,1647.7" fill="#bbc08b"/>
<polygon points="247.8,1907.5 250.7,1915.3 253.7,1923.0 280.2,1912.0 277.0,1904.6 273.8,1897.1" fill="#fefefe"/>
<polygon points="250.7,1915.3 253.7,1923.0 256.8,1930.8 283.5,1919.3 280.2,1912.0 277.0,1904.6" fill="#fdfdfc"/>
<polygon points="253.7,1923.0 256.8,1930.8 260.0,1938.5 286.8,1926.7 283.5,1919.3 280.2,1912.0" fill="#fcfcf9"/>
<polygon points="256.8,1930.8 260.0,1938.5 263.2,1946.2 290.3,1933.9 286.8,1926.7 283.5,1919.3" fill="#fafbf7"/>
<polygon points="260.0,1938.5 263.2,1946.2 266.6,1953.8 293.8,1941.2 290.3,1933.9 286.8,1926.7" fill="#f9faf5"/>
<polygon points="263.2,1946.2 266.6,1953.8 270.0,1961.4 297.3,1948.4 293.8,1941.2 290.3,1933.9" fill="#f8f9f4"/>
<polygon points="266.6,1953.8 270.0,1961.4 273.4,1969.0 301.0,1955.5 297.3,1948.4 293.8,1941.2" fill="#f7f8f2"/>
<polygon points="270.0,1961.4 273.4,1969.0 277.0,1976.6 304.7,1962.7 301.0,1955.5 297.3,1948.4" fill="#f6f7f0"/>
<polygon points="273.4,1969.0 277.0,1976.6 280.6,1984.1 308.5,1969.8 304.7,1962.7 301.0,1955.5" fill="#f5f6ef"/>
<polygon points="277.0,1976.6 280.6,1984.1 284.3,1991.6 312.4,1976.8 308.5,1969.8 304.7,1962.7" fill="#f4f5ed"/>
<polygon points="280.6,1984.1 284.3,1991.6 288.1,1999.0 316.3,1983.8 312.4,1976.8 308.5,1969.8" fill="#f3f4eb"/>
<polygon points="284.3,1991.6 288.1,1999.0 292.1,2006.4 320.1,1990.9 316.3,1983.8 312.4,1976.8" fill="#f2f3ea"/>
<polygon points="288.1,1999.0 292.1,2006.4 296.2,2013.6 324.1,1997.9 320.1,1990.9 316.3,1983.8" fill="#f1f2e8"/>
<polygon points="292.1,2006.4 296.2,2013.6 300.4,2020.9 328.1,2004.8 324.1,1997.9 320.1,1990.9" fill="#f0f2e6"/>
<polygon points="296.2,2013.6 300.4,2020.9 304.6,2028.1 332.1,2011.8 328.1,2004.8 324.1,1997.9" fill="#eff1e5"/>
<polygon points="300.4,2020.9 304.6,2028.1 308.9,2035.3 336.3,2018.6 332.1,2011.8 328.1,2004.8" fill="#eff0e3"/>
<polygon points="304.6,2028.1 308.9,2035.3 313.2,2042.4 340.5,2025.5 336.3,2018.6 332.1,2011.8" fill="#eeefe2"/>
<polygon points="308.9,2035.3 313.2,2042.4 317.7,2049.5 344.8,2032.3 340.5,2025.5 336.3,2018.6" fill="#eeefe1"/>
<polygon points="313.2,2042.4 317.7,2049.5 322.2,2056.5 349.1,2039.1 344.8,2032.3 340.5,2025.5" fill="#edefe1"/>
<polygon points="317.7,2049.5 322.2,2056.5 326.8,2063.5 331.4,2070.4 358.0,2052.4 353.5,2045.8 349.1,2039.1 344.8,2032.3" fill="#edeee0"/>
<polygon points="326.8,2063.5 331.4,2070.4 336.1,2077.3 362.5,2059.1 358.0,2052.4 353.5,2045.8" fill="#eceedf"/>
<polygon points="331.4,2070.4 336.1,2077.3 340.9,2084.2 367.1,2065.6 362.5,2059.1 358.0,2052.4" fill="#eceddf"/>
<polygon points="336.1,2077.3 340.9,2084.2 345.8,2091.0 371.8,2072.2 367.1,2065.6 362.5,2059.1" fill="#ecedde"/>
<polygon points="340.9,2084.2 345.8,2091.0 350.7,2097.7 355.7,2104.4 381.3,2085.1 376.5,2078.7 371.8,2072.2 367.1,2065.6" fill="#ebeddd"/>
<polygon points="350.7,2097.7 355.7,2104.4 360.7,2111.1 386.2,2091.5 381.3,2085.1 376.5,2078.7" fill="#ebecdc"/>
<polygon points="355.7,2104.4 360.7,2111.1 365.8,2117.7 391.1,2097.8 386.2,2091.5 381.3,2085.1" fill="#eaecdc"/>
<polygon points="360.7,2111.1 365.8,2117.7 371.0,2124.2 396.1,2104.1 391.1,2097.8 386.2,2091.5" fill="#eaecdb"/>
<polygon points="365.8,2117.7 371.0,2124.2 376.3,2130.7 401.2,2110.4 396.1,2104.1 391.1,2097.8" fill="#eaebdb"/>
<polygon points="371.0,2124.2 376.3,2130.7 381.6,2137.2 387.0,2143.6 411.5,2122.7 406.3,2116.5 401.2,2110.4 396.1,2104.1" fill="#e9ebda"/>
<polygon points="381.6,2137.2 387.0,2143.6 392.4,2149.9 397.9,2156.2 422.0,2134.8 416.7,2128.8 411.5,2122.7 406.3,2116.5" fill="#e9ead9"/>
<polygon points="392.4,2149.9 397.9,2156.2 403.5,2162.4 427.4,2140.8 422.0,2134.8 416.7,2128.8" fill="#e8e9d7"/>
<polygon points="397.9,2156.2 403.5,2162.4 409.1,2168.6 432.8,2146.7 427.4,2140.8 422.0,2134.8" fill="#e7e9d6"/>
<polygon points="403.5,2162.4 409.1,2168.6 414.8,2174.7 438.3,2152.6 432.8,2146.7 427.4,2140.8" fill="#e6e8d4"/>
<polygon points="409.1,2168.6 414.8,2174.7 420.6,2180.7 443.8,2158.4 438.3,2152.6 432.8,2146.7" fill="#e5e7d3"/>
<polygon points="414.8,2174.7 420.6,2180.7 426.4,2186.7 449.4,2164.2 443.8,2158.4 438.3,2152.6" fill="#e4e6d1"/>
<polygon points="420.6,2180.7 426.4,2186.7 432.3,2192.7 455.1,2169.9 449.4,2164.2 443.8,2158.4" fill="#e3e5d0"/>
<polygon points="426.4,2186.7 432.3,2192.7 438.2,2198.6 460.8,2175.5 455.1,2169.9 449.4,2164.2" fill="#e2e5ce"/>
<polygon points="432.3,2192.7 438.2,2198.6 444.2,2204.4 466.6,2181.1 460.8,2175.5 455.1,2169.9" fill="#e2e4cd"/>
<polygon points="438.2,2198.6 444.2,2204.4 450.2,2210.1 472.4,2186.6 466.6,2181.1 460.8,2175.5" fill="#e1e3cb"/>
<polygon points="444.2,2204.4 450.2,2210.1 456.3,2215.8 478.3,2192.1 472.4,2186.6 466.6,2181.1" fill="#e0e2ca"/>
<polygon points="450.2,2210.1 456.3,2215.8 462.5,2221.5 484.2,2197.5 478.3,2192.1 472.4,2186.6" fill="#dfe1c8"/>
<polygon points="456.3,2215.8 462.5,2221.5 468.7,2227.1 490.2,2202.9 484.2,2197.5 478.3,2192.1" fill="#dee1c7"/>
<polygon points="462.5,2221.5 468.7,2227.1 475.0,2232.6 496.2,2208.2 490.2,2202.9 484.2,2197.5" fill="#dde0c6"/>
<polygon points="468.7,2227.1 475.0,2232.6 481.3,2238.0 502.3,2213.4 496.2,2208.2 490.2,2202.9" fill="#dddfc5"/>
<polygon points="475.0,2232.6 481.3,2238.0 487.7,2243.4 508.5,2218.6 502.3,2213.4 496.2,2208.2" fill="#dcdfc4"/>
<polygon points="481.3,2238.0 487.7,2243.4 494.2,2248.7 514.6,2223.7 508.5,2218.6 502.3,2213.4" fill="#dcdfc3"/>
<polygon points="487.7,2243.4 494.2,2248.7 500.7,2254.0 520.9,2228.7 514.6,2223.7 508.5,2218.6" fill="#dcdec3"/>
<polygon points="494.2,2248.7 500.7,2254.0 507.2,2259.2 513.8,2264.3 533.5,2238.6 527.2,2233.7 520.9,2228.7 514.6,2223.7" fill="#dbdec2"/>
<polygon points="507.2,2259.2 513.8,2264.3 520.4,2269.4 539.9,2243.5 533.5,2238.6 527.2,2233.7" fill="#dbddc1"/>
<polygon points="513.8,2264.3 520.4,2269.4 527.1,2274.4 546.4,2248.3 539.9,2243.5 533.5,2238.6" fill="#daddc1"/>
<polygon points="520.4,2269.4 527.1,2274.4 533.9,2279.3 552.9,2253.0 546.4,2248.3 539.9,2243.5" fill="#daddc0"/>
<polygon points="527.1,2274.4 533.9,2279.3 540.7,2284.2 559.4,2257.7 552.9,2253.0 546.4,2248.3" fill="#dadcbf"/>
<polygon points="533.9,2279.3 540.7,2284.2 547.5,2289.0 566.0,2262.3 559.4,2257.7 552.9,2253.0" fill="#d9dcbe"/>
<polygon points="540.7,2284.2 547.5,2289.0 554.4,2293.7 572.6,2266.8 566.0,2262.3 559.4,2257.7" fill="#d8dbbd"/>
<polygon points="547.5,2289.0 554.4,2293.7 561.4,2298.3 579.3,2271.3 572.6,2266.8 566.0,2262.3" fill="#d8dbbc"/>
<polygon points="554.4,2293.7 561.4,2298.3 568.3,2302.9 586.0,2275.7 579.3,2271.3 572.6,2266.8" fill="#d7dabb"/>
<polygon points="561.4,2298.3 568.3,2302.9 575.4,2307.4 592.8,2280.0 586.0,2275.7 579.3,2271.3" fill="#d6d9ba"/>
<polygon points="568.3,2302.9 575.4,2307.4 582.4,2311.9 599.6,2284.3 592.8,2280.0 586.0,2275.7" fill="#d6d9b9"/>
<polygon points="575.4,2307.4 582.4,2311.9 589.6,2316.2 606.4,2288.5 599.6,2284.3 592.8,2280.0" fill="#d5d8b7"/>
<polygon points="582.4,2311.9 589.6,2316.2 596.7,2320.5 613.3,2292.6 606.4,2288.5 599.6,2284.3" fill="#d4d7b6"/>
<polygon points="589.6,2316.2 596.7,2320.5 603.9,2324.8 620.2,2296.6 613.3,2292.6 606.4,2288.5" fill="#d4d7b5"/>
<polygon points="596.7,2320.5 603.9,2324.8 611.2,2328.9 627.2,2300.6 620.2,2296.6 613.3,2292.6" fill="#d3d6b4"/>
<polygon points="603.9,2324.8 611.2,2328.9 618.5,2333.0 634.2,2304.6 627.2,2300.6 620.2,2296.6" fill="#d2d5b2"/>
<polygon points="611.2,2328.9 618.5,2333.0 625.8,2337.0 641.3,2308.4 634.2,2304.6 627.2,2300.6" fill="#d1d5b1"/>
<polygon points="618.5,2333.0 625.8,2337.0 633.2,2341.0 648.4,2312.2 641.3,2308.4 634.2,2304.6" fill="#d0d4b0"/>
<polygon points="625.8,2337.0 633.2,2341.0 640.6,2344.8 655.5,2315.9 648.4,2312.2 641.3,2308.4" fill="#d0d3ae"/>
<polygon points="633.2,2341.0 640.6,2344.8 648.0,2348.6 662.6,2319.5 655.5,2315.9 648.4,2312.2" fill="#cfd2ad"/>
<polygon points="640.6,2344.8 648.0,2348.6 655.5,2352.3 669.8,2323.1 662.6,2319.5 655.5,2315.9" fill="#ced2ab"/>
<polygon points="648.0,2348.6 655.5,2352.3 663.0,2356.0 677.1,2326.6 669.8,2323.1 662.6,2319.5" fill="#cdd1aa"/>
<polygon points="655.5,2352.3 663.0,2356.0 670.6,2359.5 684.3,2330.0 677.1,2326.6 669.8,2323.1" fill="#ccd0a9"/>
<polygon points="663.0,2356.0 670.6,2359.5 678.2,2363.0 691.6,2333.3 684.3,2330.0 677.1,2326.6" fill="#cccfa7"/>
<polygon points="670.6,2359.5 678.2,2363.0 685.8,2366.4 699.0,2336.6 691.6,2333.3 684.3,2330.0" fill="#cbcfa6"/>
<polygon points="678.2,2363.0 685.8,2366.4 693.5,2369.8 706.3,2339.8 699.0,2336.6 691.6,2333.3" fill="#cacea4"/>
<polygon points="685.8,2366.4 693.5,2369.8 701.2,2373.0 713.7,2342.9 706.3,2339.8 699.0,2336.6" fill="#c9cda3"/>
<polygon points="693.5,2369.8 701.2,2373.0 708.9,2376.2 721.2,2346.0 713.7,2342.9 706.3,2339.8" fill="#c8cca2"/>
<polygon points="701.2,2373.0 708.9,2376.2 716.6,2379.3 728.6,2349.0 721.2,2346.0 713.7,2342.9" fill="#c8cca1"/>
<polygon points="708.9,2376.2 716.6,2379.3 724.4,2382.4 736.1,2351.9 728.6,2349.0 721.2,2346.0" fill="#c7cba0"/>
<polygon points="716.6,2379.3 724.4,2382.4 732.3,2385.3 743.6,2354.7 736.1,2351.9 728.6,2349.0" fill="#c7cb9f"/>
<polygon points="724.4,2382.4 732.3,2385.3 740.1,2388.2 751.2,2357.4 743.6,2354.7 736.1,2351.9" fill="#c6ca9e"/>
<polygon points="732.3,2385.3 740.1,2388.2 748.0,2391.0 758.7,2360.1 751.2,2357.4 743.6,2354.7" fill="#c5ca9d"/>
<polygon points="740.1,2388.2 748.0,2391.0 755.9,2393.7 766.3,2362.7 758.7,2360.1 751.2,2357.4" fill="#c5c99c"/>
<polygon points="748.0,2391.0 755.9,2393.7 763.8,2396.3 773.9,2365.2 766.3,2362.7 758.7,2360.1" fill="#c4c99b"/>
<polygon points="755.9,2393.7 763.8,2396.3 771.8,2398.9 781.6,2367.7 773.9,2365.2 766.3,2362.7" fill="#c4c89a"/>
<polygon points="763.8,2396.3 771.8,2398.9 779.7,2401.3 789.3,2370.0 781.6,2367.7 773.9,2365.2" fill="#c3c799"/>
<polygon points="771.8,2398.9 779.7,2401.3 787.8,2403.7 797.0,2372.3 789.3,2370.0 781.6,2367.7" fill="#c3c798"/>
<polygon points="779.7,2401.3 787.8,2403.7 795.8,2406.1 804.7,2374.5 797.0,2372.3 789.3,2370.0" fill="#c2c697"/>
<polygon points="787.8,2403.7 795.8,2406.1 803.8,2408.3 812.4,2376.7 804.7,2374.5 797.0,2372.3" fill="#c1c696"/>
<polygon points="795.8,2406.1 803.8,2408.3 811.9,2410.4 820.2,2378.7 812.4,2376.7 804.7,2374.5" fill="#c1c595"/>
<polygon points="803.8,2408.3 811.9,2410.4 820.0,2412.5 828.0,2380.7 820.2,2378.7 812.4,2376.7" fill="#c0c594"/>
<polygon points="811.9,2410.4 820.0,2412.5 828.1,2414.5 835.8,2382.6 828.0,2380.7 820.2,2378.7" fill="#c0c493"/>
<polygon points="820.0,2412.5 828.1,2414.5 836.3,2416.4 843.6,2384.5 835.8,2382.6 828.0,2380.7" fill="#bfc492"/>
<polygon points="828.1,2414.5 836.3,2416.4 844.4,2418.3 851.4,2386.2 843.6,2384.5 835.8,2382.6" fill="#bec391"/>
<polygon points="836.3,2416.4 844.4,2418.3 852.6,2420.0 859.3,2387.9 851.4,2386.2 843.6,2384.5" fill="#bec390"/>
<polygon points="844.4,2418.3 852.6,2420.0 860.8,2421.7 867.1,2389.5 859.3,2387.9 851.4,2386.2" fill="#bdc28f"/>
<polygon points="852.6,2420.0 860.8,2421.7 869.0,2423.2 875.0,2391.0 867.1,2389.5 859.3,2387.9" fill="#bdc28e"/>
<polygon points="860.8,2421.7 869.0,2423.2 877.2,2424.7 882.9,2392.4 875.0,2391.0 867.1,2389.5" fill="#bcc18d"/>
<polygon points="869.0,2423.2 877.2,2424.7 885.4,2426.2 890.8,2393.8 882.9,2392.4 875.0,2391.0" fill="#bbc08c"/>
<polygon points="877.2,2424.7 885.4,2426.2 893.7,2427.5 901.9,2428.8 910.2,2429.9 918.5,2431.0 926.8,2432.0 935.1,2432.9 943.4,2433.8 951.7,2434.5 960.1,2435.2 968.4,2435.8 976.8,2436.3 985.1,2436.7 993.5,2437.1 1001.8,2437.3 1010.2,2437.5 1018.5,2437.6 1026.9,2437.6 1035.2,2437.5 1043.6,2437.3 1051.9,2437.1 1060.3,2436.8 1068.6,2436.4 1077.0,2435.9 1085.3,2435.3 1093.7,2434.6 1102.0,2433.9 1110.3,2433.0 1118.6,2432.1 1126.9,2431.1 1135.2,2430.0 1143.5,2428.9 1151.7,2427.6 1160.0,2426.3 1168.2,2424.9 1176.5,2423.4 1184.7,2421.8 1192.9,2420.2 1201.0,2418.4 1209.2,2416.6 1217.3,2414.7 1225.4,2412.7 1233.5,2410.7 1241.6,2408.5 1249.7,2406.3 1257.7,2404.0 1265.7,2401.6 1273.7,2399.1 1281.7,2396.6 1289.6,2394.0 1297.5,2391.3 1305.4,2388.5 1313.3,2385.6 1321.1,2382.7 1328.9,2379.6 1336.6,2376.5 1344.4,2373.4 1352.1,2370.1 1359.7,2366.8 1367.4,2363.4 1375.0,2359.9 1382.5,2356.3 1390.1,2352.7 1397.6,2349.0 1405.0,2345.2 1412.4,2341.3 1419.8,2337.4 1427.1,2333.4 1434.4,2329.3 1441.7,2325.2 1448.9,2321.0 1456.1,2316.7 1463.2,2312.3 1470.3,2307.9 1477.3,2303.3 1484.3,2298.8 1491.3,2294.1 1498.2,2289.4 1505.0,2284.6 1511.8,2279.7 1518.6,2274.8 1525.3,2269.8 1532.0,2264.8 1538.6,2259.7 1545.1,2254.5 1551.6,2249.2 1558.1,2243.9 1564.5,2238.5 1570.8,2233.1 1577.1,2227.5 1583.3,2222.0 1589.5,2216.3 1595.6,2210.6 1601.7,2204.9 1607.7,2199.1 1613.6,2193.2 1619.5,2187.2 1625.3,2181.2 1631.1,2175.2 1636.8,2169.1 1642.5,2162.9 1648.0,2156.7 1653.6,2150.4 1659.0,2144.1 1664.4,2137.7 1669.7,2131.2 1675.0,2124.7 1680.2,2118.2 1685.3,2111.6 1690.4,2104.9 1695.4,2098.2 1700.3,2091.5 1705.2,2084.7 1710.0,2077.8 1714.7,2070.9 1719.4,2064.0 1724.0,2057.0 1728.5,2049.9 1732.9,2042.9 1737.3,2035.7 1741.6,2028.6 1745.8,2021.4 1750.0,2014.1 1754.1,2006.8 1758.1,1999.5 1762.0,1992.1 1765.9,1984.7 1769.7,1977.2 1773.4,1969.7 1777.1,1962.2 1780.6,1954.7 1784.1,1947.1 1787.5,1939.4 1790.9,1931.8 1794.1,1924.1 1797.3,1916.3 1800.4,1908.6 1768.8,1896.0 1765.8,1903.5 1762.8,1911.0 1759.7,1918.4 1756.5,1925.7 1753.2,1933.0 1749.8,1940.3 1746.4,1947.6 1742.9,1954.8 1739.4,1962.0 1735.8,1969.2 1732.1,1976.3 1728.3,1983.4 1724.4,1990.4 1720.5,1997.4 1716.5,2004.4 1712.5,2011.3 1708.4,2018.2 1704.2,2025.0 1699.9,2031.8 1695.6,2038.6 1691.2,2045.3 1686.7,2052.0 1682.2,2058.6 1677.6,2065.2 1672.9,2071.7 1668.2,2078.2 1663.4,2084.6 1658.6,2091.0 1653.6,2097.3 1648.7,2103.6 1643.6,2109.9 1638.5,2116.1 1633.3,2122.2 1628.1,2128.3 1622.8,2134.3 1617.5,2140.3 1612.1,2146.2 1606.6,2152.1 1601.1,2157.9 1595.5,2163.7 1589.8,2169.4 1584.1,2175.0 1578.4,2180.6 1572.6,2186.1 1566.7,2191.6 1560.8,2197.0 1554.8,2202.4 1548.8,2207.7 1542.7,2212.9 1536.6,2218.1 1530.4,2223.2 1524.1,2228.3 1517.8,2233.3 1511.5,2238.2 1505.1,2243.0 1498.7,2247.8 1492.2,2252.6 1485.7,2257.2 1479.1,2261.8 1472.5,2266.4 1465.8,2270.8 1459.1,2275.3 1452.4,2279.6 1445.6,2283.9 1438.7,2288.1 1431.9,2292.2 1424.9,2296.2 1418.0,2300.2 1411.0,2304.2 1403.9,2308.0 1396.8,2311.8 1389.7,2315.5 1382.6,2319.2 1375.4,2322.7 1368.2,2326.2 1360.9,2329.6 1353.6,2333.0 1346.3,2336.3 1338.9,2339.5 1331.5,2342.6 1324.1,2345.7 1316.7,2348.6 1309.2,2351.6 1301.7,2354.4 1294.1,2357.1 1286.6,2359.8 1279.0,2362.4 1271.4,2365.0 1263.7,2367.4 1256.1,2369.8 1248.4,2372.1 1240.7,2374.3 1232.9,2376.5 1225.2,2378.5 1217.4,2380.5 1209.6,2382.4 1201.8,2384.3 1193.9,2386.0 1186.1,2387.7 1178.2,2389.3 1170.4,2390.8 1162.5,2392.3 1154.5,2393.6 1146.6,2394.9 1138.7,2396.1 1130.7,2397.2 1122.8,2398.3 1114.8,2399.2 1106.8,2400.1 1098.8,2400.9 1090.9,2401.7 1082.8,2402.3 1074.8,2402.9 1066.8,2403.4 1058.8,2403.8 1050.8,2404.1 1042.8,2404.3 1034.7,2404.5 1026.7,2404.6 1018.7,2404.6 1010.7,2404.5 1002.6,2404.4 994.6,2404.1 986.6,2403.8 978.6,2403.4 970.6,2402.9 962.5,2402.4 954.5,2401.7 946.5,2401.0 938.6,2400.2 930.6,2399.3 922.6,2398.4 914.6,2397.4 906.7,2396.2 898.8,2395.0 890.8,2393.8 882.9,2392.4" fill="#bbc08b"/>
<polygon points="1822.7,1749.7 1708.3,1887.4 1782,1906 1863,1924.5" fill="#bbc08b"/>
<polygon points="312.4,903.4 313.7,904.6 315.5,906.1 316.9,904.3 315.1,902.9 313.6,901.8" fill="#fbfbf8"/>
<polygon points="313.7,904.6 315.5,906.1 317.5,907.8 319.0,905.8 316.9,904.3 315.1,902.9" fill="#f9faf5"/>
<polygon points="315.5,906.1 317.5,907.8 319.8,909.7 321.4,907.6 319.0,905.8 316.9,904.3" fill="#f8f8f2"/>
<polygon points="317.5,907.8 319.8,909.7 322.2,911.8 324.0,909.5 321.4,907.6 319.0,905.8" fill="#f5f6ef"/>
<polygon points="319.8,909.7 322.2,911.8 324.8,914.0 326.8,911.5 324.0,909.5 321.4,907.6" fill="#f3f4eb"/>
<polygon points="322.2,911.8 324.8,914.0 327.5,916.4 329.7,913.7 326.8,911.5 324.0,909.5" fill="#f1f2e7"/>
<polygon points="324.8,914.0 327.5,916.4 330.1,918.8 332.6,916.0 329.7,913.7 326.8,911.5" fill="#eeefe2"/>
<polygon points="327.5,916.4 330.1,918.8 332.8,921.3 335.5,918.3 332.6,916.0 329.7,913.7" fill="#ebeddd"/>
<polygon points="330.1,918.8 332.8,921.3 335.3,923.8 338.3,920.8 335.5,918.3 332.6,916.0" fill="#e9ead9"/>
<polygon points="332.8,921.3 335.3,923.8 337.7,926.4 341.0,923.2 338.3,920.8 335.5,918.3" fill="#e6e8d5"/>
<polygon points="335.3,923.8 337.7,926.4 339.9,928.9 343.5,925.7 341.0,923.2 338.3,920.8" fill="#e5e7d2"/>
<polygon points="337.7,926.4 339.9,928.9 342.0,931.5 345.8,928.2 343.5,925.7 341.0,923.2" fill="#e3e5d0"/>
<polygon points="339.9,928.9 342.0,931.5 344.2,934.1 348.2,930.8 345.8,928.2 343.5,925.7" fill="#e2e4cd"/>
<polygon points="342.0,931.5 344.2,934.1 346.4,936.8 350.5,933.5 348.2,930.8 345.8,928.2" fill="#e0e3cb"/>
<polygon points="344.2,934.1 346.4,936.8 348.6,939.6 352.8,936.3 350.5,933.5 348.2,930.8" fill="#dfe1c8"/>
<polygon points="346.4,936.8 348.6,939.6 350.7,942.5 355.1,939.2 352.8,936.3 350.5,933.5" fill="#dde0c5"/>
<polygon points="348.6,939.6 350.7,942.5 352.8,945.4 357.4,942.1 355.1,939.2 352.8,936.3" fill="#dcdec3"/>
<polygon points="350.7,942.5 352.8,945.4 354.8,948.4 359.6,945.1 357.4,942.1 355.1,939.2" fill="#daddc0"/>
<polygon points="352.8,945.4 354.8,948.4 356.7,951.4 361.7,948.2 359.6,945.1 357.4,942.1" fill="#d9dbbd"/>
<polygon points="354.8,948.4 356.7,951.4 358.6,954.5 363.8,951.3 361.7,948.2 359.6,945.1" fill="#d7dabb"/>
<polygon points="356.7,951.4 358.6,954.5 360.4,957.5 365.7,954.4 363.8,951.3 361.7,948.2" fill="#d5d8b8"/>
<polygon points="358.6,954.5 360.4,957.5 362.0,960.6 367.6,957.6 365.7,954.4 363.8,951.3" fill="#d4d7b5"/>
<polygon points="360.4,957.5 362.0,960.6 363.5,963.7 369.3,960.9 367.6,957.6 365.7,954.4" fill="#d2d5b2"/>
<polygon points="362.0,960.6 363.5,963.7 364.9,966.8 370.9,964.2 369.3,960.9 367.6,957.6" fill="#d1d4b0"/>
<polygon points="363.5,963.7 364.9,966.8 366.2,970.1 372.4,967.6 370.9,964.2 369.3,960.9" fill="#cfd3ad"/>
<polygon points="364.9,966.8 366.2,970.1 367.3,973.3 373.8,971.0 372.4,967.6 370.9,964.2" fill="#ced2ab"/>
<polygon points="366.2,970.1 367.3,973.3 368.4,976.7 375.1,974.5 373.8,971.0 372.4,967.6" fill="#cdd1aa"/>
<polygon points="367.3,973.3 368.4,976.7 369.5,980.1 376.3,978.0 375.1,974.5 373.8,971.0" fill="#ccd0a8"/>
<polygon points="368.4,976.7 369.5,980.1 370.4,983.5 377.4,981.5 376.3,978.0 375.1,974.5" fill="#cbcfa6"/>
<polygon points="369.5,980.1 370.4,983.5 371.3,987.0 378.4,985.1 377.4,981.5 376.3,978.0" fill="#cacda4"/>
<polygon points="370.4,983.5 371.3,987.0 372.1,990.4 379.4,988.6 378.4,985.1 377.4,981.5" fill="#c8cca2"/>
<polygon points="371.3,987.0 372.1,990.4 372.9,993.9 380.3,992.2 379.4,988.6 378.4,985.1" fill="#c7cba0"/>
<polygon points="372.1,990.4 372.9,993.9 373.6,997.4 381.1,995.8 380.3,992.2 379.4,988.6" fill="#c6ca9e"/>
<polygon points="372.9,993.9 373.6,997.4 374.3,1000.8 381.9,999.3 381.1,995.8 380.3,992.2" fill="#c5c99c"/>
<polygon points="373.6,997.4 374.3,1000.8 375.0,1004.3 382.6,1002.7 381.9,999.3 381.1,995.8" fill="#c4c89a"/>
<polygon points="374.3,1000.8 375.0,1004.3 375.6,1007.6 383.3,1006.2 382.6,1002.7 381.9,999.3" fill="#c3c798"/>
<polygon points="375.0,1004.3 375.6,1007.6 376.2,1011.0 383.9,1009.7 383.3,1006.2 382.6,1002.7" fill="#c2c696"/>
<polygon points="375.6,1007.6 376.2,1011.0 376.7,1014.4 384.5,1013.2 383.9,1009.7 383.3,1006.2" fill="#c1c595"/>
<polygon points="376.2,1011.0 376.7,1014.4 377.1,1017.7 385.0,1016.7 384.5,1013.2 383.9,1009.7" fill="#c0c493"/>
<polygon points="376.7,1014.4 377.1,1017.7 377.5,1021.1 377.9,1024.4 378.2,1027.8 386.2,1027.1 385.9,1023.7 385.5,1020.2 385.0,1016.7 384.5,1013.2" fill="#bec391"/>
<polygon points="377.9,1024.4 378.2,1027.8 378.4,1031.2 378.5,1034.5 378.7,1037.9 378.7,1041.2 378.7,1044.6 378.7,1047.9 387.1,1048.1 387.1,1044.6 387.0,1041.1 386.9,1037.6 386.7,1034.1 386.5,1030.6 386.2,1027.1 385.9,1023.7" fill="#bec390"/>
<polygon points="378.7,1044.6 378.7,1047.9 378.5,1051.3 378.3,1054.6 386.8,1055.2 387.0,1051.7 387.1,1048.1 387.1,1044.6" fill="#bec28f"/>
<polygon points="378.5,1051.3 378.3,1054.6 378.0,1058.0 377.7,1061.3 377.3,1064.7 376.9,1068.1 376.4,1071.5 385.1,1072.6 385.6,1069.2 385.9,1065.7 386.3,1062.2 386.6,1058.7 386.8,1055.2 387.0,1051.7" fill="#bdc28f"/>
<polygon points="376.9,1068.1 376.4,1071.5 375.9,1074.9 375.4,1078.3 374.9,1081.7 374.4,1085.1 373.8,1088.6 382.7,1090.0 383.2,1086.5 383.7,1083.0 384.2,1079.6 384.7,1076.1 385.1,1072.6 385.6,1069.2" fill="#bdc28e"/>
<polygon points="374.4,1085.1 373.8,1088.6 373.2,1092.1 372.5,1095.7 381.5,1097.4 382.1,1093.7 382.7,1090.0 383.2,1086.5" fill="#bdc18e"/>
<polygon points="373.2,1092.1 372.5,1095.7 371.8,1099.3 371.0,1103.0 370.2,1106.6 369.5,1110.1 368.7,1113.6 367.9,1116.9 377.2,1119.0 377.9,1115.6 378.6,1112.1 379.4,1108.5 380.1,1104.8 380.8,1101.1 381.5,1097.4 382.1,1093.7" fill="#bcc18d"/>
<polygon points="368.7,1113.6 367.9,1116.9 367.2,1120.1 366.5,1123.1 365.8,1125.9 365.2,1128.5 364.5,1130.9 373.9,1133.4 374.6,1130.8 375.2,1128.1 375.8,1125.3 376.5,1122.2 377.2,1119.0 377.9,1115.6" fill="#bcc18c"/>
<polygon points="365.2,1128.5 364.5,1130.9 363.9,1133.3 363.2,1135.5 362.6,1137.7 362.0,1139.7 371.5,1142.5 372.1,1140.4 372.7,1138.2 373.3,1135.8 373.9,1133.4 374.6,1130.8" fill="#bbc08c"/>
<polygon points="362.6,1137.7 362.0,1139.7 361.4,1141.5 360.9,1143.2 360.4,1144.8 359.9,1146.2 359.5,1147.5 359.2,1148.6 368.8,1151.4 369.1,1150.4 369.4,1149.2 369.9,1147.8 370.4,1146.2 370.9,1144.4 371.5,1142.5 372.1,1140.4" fill="#bbc08b"/>
<polygon points="346,1134 374,1130 360,1166" fill="#bbc08b"/>
<polygon points="1708.7,1180.2 1708.8,1178.4 1708.9,1176.0 1699.5,1175.6 1699.3,1177.9 1699.3,1179.8" fill="#cfd3ad"/>
<polygon points="1708.8,1178.4 1708.9,1176.0 1709.0,1173.2 1699.6,1172.9 1699.5,1175.6 1699.3,1177.9" fill="#cfd2ac"/>
<polygon points="1708.9,1176.0 1709.0,1173.2 1709.1,1170.1 1699.7,1169.8 1699.6,1172.9 1699.5,1175.6" fill="#ced1ab"/>
<polygon points="1709.0,1173.2 1709.1,1170.1 1709.3,1166.8 1699.9,1166.4 1699.7,1169.8 1699.6,1172.9" fill="#cdd1aa"/>
<polygon points="1709.1,1170.1 1709.3,1166.8 1709.4,1163.3 1700.0,1162.8 1699.9,1166.4 1699.7,1169.8" fill="#ccd0a8"/>
<polygon points="1709.3,1166.8 1709.4,1163.3 1709.6,1159.6 1700.2,1159.2 1700.0,1162.8 1699.9,1166.4" fill="#cbcfa6"/>
<polygon points="1709.4,1163.3 1709.6,1159.6 1709.7,1155.9 1700.4,1155.5 1700.2,1159.2 1700.0,1162.8" fill="#cacea5"/>
<polygon points="1709.6,1159.6 1709.7,1155.9 1709.9,1152.3 1700.6,1151.8 1700.4,1155.5 1700.2,1159.2" fill="#c9cda3"/>
<polygon points="1709.7,1155.9 1709.9,1152.3 1710.1,1148.8 1700.8,1148.2 1700.6,1151.8 1700.4,1155.5" fill="#c8cca1"/>
<polygon points="1709.9,1152.3 1710.1,1148.8 1710.3,1145.4 1701.0,1144.8 1700.8,1148.2 1700.6,1151.8" fill="#c7cb9f"/>
<polygon points="1710.1,1148.8 1710.3,1145.4 1710.5,1142.4 1701.3,1141.6 1701.0,1144.8 1700.8,1148.2" fill="#c6ca9d"/>
<polygon points="1710.3,1145.4 1710.5,1142.4 1710.7,1139.5 1701.5,1138.8 1701.3,1141.6 1701.0,1144.8" fill="#c5c99c"/>
<polygon points="1710.5,1142.4 1710.7,1139.5 1710.9,1136.6 1701.7,1136.0 1701.5,1138.8 1701.3,1141.6" fill="#c4c89a"/>
<polygon points="1710.7,1139.5 1710.9,1136.6 1711.1,1133.9 1701.9,1133.2 1701.7,1136.0 1701.5,1138.8" fill="#c3c899"/>
<polygon points="1710.9,1136.6 1711.1,1133.9 1711.3,1131.3 1702.2,1130.5 1701.9,1133.2 1701.7,1136.0" fill="#c2c797"/>
<polygon points="1711.1,1133.9 1711.3,1131.3 1711.5,1128.7 1702.4,1127.9 1702.2,1130.5 1701.9,1133.2" fill="#c2c696"/>
<polygon points="1711.3,1131.3 1711.5,1128.7 1711.7,1126.1 1702.6,1125.2 1702.4,1127.9 1702.2,1130.5" fill="#c1c595"/>
<polygon points="1711.5,1128.7 1711.7,1126.1 1712.0,1123.5 1702.9,1122.5 1702.6,1125.2 1702.4,1127.9" fill="#c0c594"/>
<polygon points="1711.7,1126.1 1712.0,1123.5 1712.3,1121.0 1703.3,1119.8 1702.9,1122.5 1702.6,1125.2" fill="#bfc492"/>
<polygon points="1712.0,1123.5 1712.3,1121.0 1712.7,1118.4 1703.6,1117.0 1703.3,1119.8 1702.9,1122.5" fill="#bec391"/>
<polygon points="1712.3,1121.0 1712.7,1118.4 1713.1,1115.7 1704.1,1114.2 1703.6,1117.0 1703.3,1119.8" fill="#bec290"/>
<polygon points="1712.7,1118.4 1713.1,1115.7 1713.6,1113.0 1704.7,1111.3 1704.1,1114.2 1703.6,1117.0" fill="#bdc28e"/>
<polygon points="1713.1,1115.7 1713.6,1113.0 1714.1,1110.1 1705.3,1108.3 1704.7,1111.3 1704.1,1114.2" fill="#bcc18d"/>
<polygon points="1713.6,1113.0 1714.1,1110.1 1714.8,1107.2 1715.5,1104.2 1716.2,1101.2 1717.1,1098.1 1717.9,1094.9 1718.9,1091.8 1719.8,1088.5 1720.9,1085.3 1721.9,1082.0 1723.1,1078.7 1724.3,1075.4 1725.5,1072.1 1726.8,1068.7 1728.2,1065.2 1729.6,1061.6 1731.1,1058.0 1732.7,1054.3 1734.3,1050.7 1735.9,1047.0 1737.6,1043.4 1739.3,1039.9 1741.0,1036.4 1742.7,1033.1 1744.4,1029.8 1746.2,1026.7 1748.0,1023.6 1749.9,1020.6 1751.8,1017.6 1753.7,1014.7 1755.7,1011.8 1757.7,1008.9 1759.6,1006.1 1761.6,1003.4 1763.5,1000.7 1765.5,998.0 1767.3,995.4 1769.2,992.8 1771.1,990.2 1773.1,987.5 1775.2,984.9 1777.2,982.3 1779.1,979.8 1781.0,977.5 1782.8,975.2 1784.4,973.2 1785.9,971.4 1787.1,969.8 1788.1,968.5 1781.9,963.5 1780.9,964.8 1779.6,966.3 1778.1,968.2 1776.5,970.2 1774.7,972.4 1772.8,974.8 1770.8,977.3 1768.7,979.9 1766.7,982.6 1764.6,985.3 1762.6,988.0 1760.7,990.6 1758.8,993.2 1756.9,995.8 1754.9,998.5 1752.9,1001.3 1750.9,1004.1 1748.8,1007.0 1746.8,1010.0 1744.7,1013.0 1742.7,1016.1 1740.8,1019.3 1738.8,1022.5 1737.0,1025.8 1735.2,1029.1 1733.4,1032.6 1731.6,1036.1 1729.8,1039.8 1728.1,1043.4 1726.4,1047.1 1724.7,1050.9 1723.1,1054.6 1721.6,1058.3 1720.1,1061.9 1718.6,1065.5 1717.3,1068.9 1716.0,1072.4 1714.8,1075.8 1713.6,1079.2 1712.4,1082.5 1711.3,1085.9 1710.3,1089.2 1709.3,1092.5 1708.4,1095.7 1707.5,1098.9 1706.7,1102.1 1706.0,1105.2 1705.3,1108.3 1704.7,1111.3" fill="#bbc08b"/>
<polygon points="1819.2,940.7 1765.9,955.2 1799.8,990" fill="#bbc08b"/>
<polygon points="1568.8,2381.9 1568.4,2380.4 1568.0,2378.6 1565.8,2379.2 1566.4,2381.0 1566.8,2382.5" fill="#fbfbf8"/>
<polygon points="1568.4,2380.4 1568.0,2378.6 1567.5,2376.5 1565.1,2377.2 1565.8,2379.2 1566.4,2381.0" fill="#f9faf5"/>
<polygon points="1568.0,2378.6 1567.5,2376.5 1566.9,2374.1 1564.3,2374.8 1565.1,2377.2 1565.8,2379.2" fill="#f7f8f2"/>
<polygon points="1567.5,2376.5 1566.9,2374.1 1566.2,2371.5 1563.5,2372.3 1564.3,2374.8 1565.1,2377.2" fill="#f5f6ee"/>
<polygon points="1566.9,2374.1 1566.2,2371.5 1565.6,2368.7 1562.6,2369.5 1563.5,2372.3 1564.3,2374.8" fill="#f3f4ea"/>
<polygon points="1566.2,2371.5 1565.6,2368.7 1564.9,2365.8 1561.7,2366.7 1562.6,2369.5 1563.5,2372.3" fill="#f0f1e6"/>
<polygon points="1565.6,2368.7 1564.9,2365.8 1564.2,2362.8 1560.8,2363.7 1561.7,2366.7 1562.6,2369.5" fill="#eeefe1"/>
<polygon points="1564.9,2365.8 1564.2,2362.8 1563.6,2359.8 1559.9,2360.7 1560.8,2363.7 1561.7,2366.7" fill="#ebecdd"/>
<polygon points="1564.2,2362.8 1563.6,2359.8 1563.1,2356.8 1559.1,2357.6 1559.9,2360.7 1560.8,2363.7" fill="#e8ead8"/>
<polygon points="1563.6,2359.8 1563.1,2356.8 1562.6,2353.8 1558.4,2354.5 1559.1,2357.6 1559.9,2360.7" fill="#e5e7d3"/>
<polygon points="1563.1,2356.8 1562.6,2353.8 1562.2,2350.8 1557.8,2351.6 1558.4,2354.5 1559.1,2357.6" fill="#e3e5cf"/>
<polygon points="1562.6,2353.8 1562.2,2350.8 1561.9,2347.9 1557.2,2348.6 1557.8,2351.6 1558.4,2354.5" fill="#e1e3cc"/>
<polygon points="1562.2,2350.8 1561.9,2347.9 1561.6,2344.9 1556.7,2345.5 1557.2,2348.6 1557.8,2351.6" fill="#e0e2ca"/>
<polygon points="1561.9,2347.9 1561.6,2344.9 1561.3,2341.7 1556.2,2342.4 1556.7,2345.5 1557.2,2348.6" fill="#dee0c7"/>
<polygon points="1561.6,2344.9 1561.3,2341.7 1561.0,2338.6 1555.8,2339.1 1556.2,2342.4 1556.7,2345.5" fill="#dcdfc4"/>
<polygon points="1561.3,2341.7 1561.0,2338.6 1560.7,2335.3 1555.4,2335.8 1555.8,2339.1 1556.2,2342.4" fill="#dbddc1"/>
<polygon points="1561.0,2338.6 1560.7,2335.3 1560.5,2332.1 1555.0,2332.5 1555.4,2335.8 1555.8,2339.1" fill="#d9dcbe"/>
<polygon points="1560.7,2335.3 1560.5,2332.1 1560.3,2328.8 1554.7,2329.1 1555.0,2332.5 1555.4,2335.8" fill="#d7dabb"/>
<polygon points="1560.5,2332.1 1560.3,2328.8 1560.2,2325.5 1554.4,2325.8 1554.7,2329.1 1555.0,2332.5" fill="#d5d9b8"/>
<polygon points="1560.3,2328.8 1560.2,2325.5 1560.1,2322.2 1554.2,2322.4 1554.4,2325.8 1554.7,2329.1" fill="#d4d7b5"/>
<polygon points="1560.2,2325.5 1560.1,2322.2 1560.1,2318.9 1554.1,2319.0 1554.2,2322.4 1554.4,2325.8" fill="#d2d5b2"/>
<polygon points="1560.1,2322.2 1560.1,2318.9 1560.1,2315.7 1554.0,2315.6 1554.1,2319.0 1554.2,2322.4" fill="#d0d4af"/>
<polygon points="1560.1,2318.9 1560.1,2315.7 1560.2,2312.5 1554.0,2312.3 1554.0,2315.6 1554.1,2319.0" fill="#ced2ac"/>
<polygon points="1560.1,2315.7 1560.2,2312.5 1560.4,2309.3 1554.0,2309.0 1554.0,2312.3 1554.0,2315.6" fill="#cdd0a9"/>
<polygon points="1560.2,2312.5 1560.4,2309.3 1560.6,2306.1 1554.1,2305.7 1554.0,2309.0 1554.0,2312.3" fill="#cbcfa6"/>
<polygon points="1560.4,2309.3 1560.6,2306.1 1560.9,2303.0 1554.3,2302.5 1554.1,2305.7 1554.0,2309.0" fill="#c9cda3"/>
<polygon points="1560.6,2306.1 1560.9,2303.0 1561.3,2299.8 1554.5,2299.2 1554.3,2302.5 1554.1,2305.7" fill="#c8cca1"/>
<polygon points="1560.9,2303.0 1561.3,2299.8 1561.7,2296.7 1554.8,2295.9 1554.5,2299.2 1554.3,2302.5" fill="#c7cba0"/>
<polygon points="1561.3,2299.8 1561.7,2296.7 1562.1,2293.5 1555.2,2292.6 1554.8,2295.9 1554.5,2299.2" fill="#c7cb9f"/>
<polygon points="1561.7,2296.7 1562.1,2293.5 1562.6,2290.3 1555.6,2289.3 1555.2,2292.6 1554.8,2295.9" fill="#c6ca9e"/>
<polygon points="1562.1,2293.5 1562.6,2290.3 1563.2,2287.2 1556.0,2286.0 1555.6,2289.3 1555.2,2292.6" fill="#c5c99c"/>
<polygon points="1562.6,2290.3 1563.2,2287.2 1563.8,2284.0 1556.5,2282.7 1556.0,2286.0 1555.6,2289.3" fill="#c4c99b"/>
<polygon points="1563.2,2287.2 1563.8,2284.0 1564.4,2280.8 1557.0,2279.5 1556.5,2282.7 1556.0,2286.0" fill="#c4c89a"/>
<polygon points="1563.8,2284.0 1564.4,2280.8 1565.0,2277.7 1557.6,2276.2 1557.0,2279.5 1556.5,2282.7" fill="#c3c799"/>
<polygon points="1564.4,2280.8 1565.0,2277.7 1565.7,2274.5 1558.3,2272.9 1557.6,2276.2 1557.0,2279.5" fill="#c2c797"/>
<polygon points="1565.0,2277.7 1565.7,2274.5 1566.5,2271.3 1559.0,2269.6 1558.3,2272.9 1557.6,2276.2" fill="#c2c696"/>
<polygon points="1565.7,2274.5 1566.5,2271.3 1567.2,2268.1 1559.7,2266.3 1559.0,2269.6 1558.3,2272.9" fill="#c1c595"/>
<polygon points="1566.5,2271.3 1567.2,2268.1 1568.1,2264.8 1560.5,2262.9 1559.7,2266.3 1559.0,2269.6" fill="#c0c594"/>
<polygon points="1567.2,2268.1 1568.1,2264.8 1568.9,2261.5 1561.4,2259.5 1560.5,2262.9 1559.7,2266.3" fill="#bfc492"/>
<polygon points="1568.1,2264.8 1568.9,2261.5 1569.9,2258.3 1562.3,2256.1 1561.4,2259.5 1560.5,2262.9" fill="#bec391"/>
<polygon points="1568.9,2261.5 1569.9,2258.3 1570.8,2255.0 1563.2,2252.7 1562.3,2256.1 1561.4,2259.5" fill="#bec390"/>
<polygon points="1569.9,2258.3 1570.8,2255.0 1571.8,2251.8 1572.9,2248.6 1574.0,2245.5 1575.1,2242.4 1576.2,2239.5 1577.4,2236.6 1578.6,2233.8 1579.9,2231.2 1572.3,2227.5 1571.0,2230.4 1569.8,2233.4 1568.6,2236.5 1567.4,2239.6 1566.3,2242.8 1565.2,2246.1 1564.2,2249.4 1563.2,2252.7 1562.3,2256.1" fill="#bdc28e"/>
<polygon points="1578.6,2233.8 1579.9,2231.2 1581.2,2228.5 1582.6,2226.0 1584.0,2223.5 1576.5,2219.3 1575.1,2222.0 1573.7,2224.7 1572.3,2227.5 1571.0,2230.4" fill="#bdc18e"/>
<polygon points="1582.6,2226.0 1584.0,2223.5 1585.4,2221.0 1578.0,2216.7 1576.5,2219.3 1575.1,2222.0" fill="#bcc18e"/>
<polygon points="1584.0,2223.5 1585.4,2221.0 1586.9,2218.5 1588.4,2216.1 1589.9,2213.7 1591.5,2211.3 1593.1,2208.8 1594.7,2206.4 1596.3,2204.0 1597.9,2201.7 1599.6,2199.3 1601.3,2197.0 1603.0,2194.7 1604.7,2192.4 1597.4,2186.9 1595.7,2189.3 1594.0,2191.7 1592.3,2194.1 1590.6,2196.6 1588.9,2199.1 1587.3,2201.6 1585.7,2204.1 1584.1,2206.5 1582.6,2209.0 1581.0,2211.5 1579.5,2214.1 1578.0,2216.7 1576.5,2219.3" fill="#bcc18d"/>
<polygon points="1603.0,2194.7 1604.7,2192.4 1606.5,2190.2 1608.3,2187.9 1610.1,2185.7 1611.9,2183.5 1613.8,2181.2 1615.6,2179.0 1617.6,2176.8 1610.4,2170.6 1608.4,2173.0 1606.5,2175.3 1604.7,2177.6 1602.8,2179.9 1601.0,2182.2 1599.2,2184.6 1597.4,2186.9 1595.7,2189.3" fill="#bcc18c"/>
<polygon points="1615.6,2179.0 1617.6,2176.8 1619.7,2174.4 1612.5,2168.1 1610.4,2170.6 1608.4,2173.0" fill="#bcc08c"/>
<polygon points="1617.6,2176.8 1619.7,2174.4 1621.9,2172.0 1624.2,2169.5 1626.5,2167.0 1628.9,2164.6 1621.8,2157.9 1619.5,2160.4 1617.1,2163.0 1614.8,2165.5 1612.5,2168.1 1610.4,2170.6" fill="#bbc08c"/>
<polygon points="1626.5,2167.0 1628.9,2164.6 1631.1,2162.3 1633.2,2160.1 1635.2,2158.0 1637.0,2156.2 1638.5,2154.7 1639.7,2153.4 1632.3,2146.6 1631.2,2147.8 1629.8,2149.4 1628.0,2151.2 1626.1,2153.3 1624.0,2155.5 1621.8,2157.9 1619.5,2160.4" fill="#bbc08b"/>
<polygon points="1619,2134 1652,2170 1668,2110" fill="#bbc08b"/>
<use href="#ribo"/>
<use href="#ribo" transform="translate(1935,-254.3) scale(0.833)"/>
<use href="#rna"/>
<g transform="translate(-52,1082)"><use href="#rna"/><use href="#mini"/></g>
<g transform="translate(1685.5,911)"><use href="#rna"/>
<use href="#rnasel" transform="translate(452,561.1) rotate(33.4) scale(0.7) translate(-1491.05,-2443.8)"/>
<use href="#mini"/></g>
<use href="#rnasel"/>
<g fill="none" stroke="#2a3440"><path d="M1841.8,718.0 L1844.7,718.2 L1848.5,718.6 L1853.0,719.2 L1858.0,719.7 L1863.4,720.3 L1869.0,720.7 L1874.7,720.9 L1880.3,720.9 L1885.8,720.6 L1890.8,719.8 L1895.6,718.6 L1900.5,717.0 L1905.4,715.2 L1910.3,713.0 L1915.2,710.7 L1920.0,708.2 L1924.7,705.7 L1929.3,703.1 L1933.7,700.5 L1938.0,698.0 L1942.1,695.4 L1946.0,692.7 L1949.7,689.8 L1953.3,686.8 L1956.8,683.8 L1960.3,680.9 L1963.8,678.1 L1967.2,675.4 L1970.7,673.0 L1974.3,670.8 L1977.9,668.9 L1981.3,667.0 L1984.7,665.3 L1988.1,663.7 L1991.5,662.3 L1995.0,661.0 L1998.6,660.0 L2002.4,659.1 L2006.4,658.5 L2010.6,658.1 L2015.3,658.1 L2020.6,658.4 L2026.4,659.0 L2032.3,659.9 L2038.3,661.0 L2044.0,662.0 L2049.4,663.1 L2054.3,664.1 L2058.3,664.9 L2061.4,665.4" stroke-width="4"/><path d="M1842.8,718.1 l-0.8,14.0 M1856.5,719.6 l-1.2,13.9 M1870.3,720.8 l-0.5,14.0 M1884.1,720.7 l0.7,14.0 M1897.7,718.0 l3.2,13.6 M1910.5,712.9 l4.6,13.2 M1922.9,706.7 l5.1,13.0 M1934.9,699.8 l5.5,12.9 M1946.5,692.3 l6.7,12.3 M1957.2,683.5 l7.1,12.1 M1968.0,674.9 l6.2,12.5 M1979.8,667.8 l5.0,13.1 M1992.4,662.0 l3.6,13.5 M2005.7,658.6 l1.7,13.9 M2019.5,658.3 l-0.7,14.0 M2033.2,660.1 l-1.8,13.9 M2046.8,662.6 l-2.1,13.8 M2060.4,665.2 l-1.8,13.9" stroke-width="3.4"/><path d="M2192.1,667.2 L2193.5,668.3 L2195.2,669.8 L2197.1,671.6 L2199.2,673.7 L2201.7,675.8 L2204.4,678.0 L2207.3,680.1 L2210.5,682.1 L2213.9,683.8 L2217.6,685.3 L2221.7,686.5 L2226.1,687.7 L2231.0,688.7 L2236.1,689.6 L2241.4,690.4 L2246.9,691.1 L2252.4,691.7 L2257.8,692.1 L2263.2,692.4 L2268.4,692.6 L2273.5,692.5 L2278.6,692.1 L2283.8,691.5 L2288.9,690.8 L2294.0,690.0 L2299.1,689.1 L2304.2,688.3 L2309.3,687.7 L2314.3,687.3 L2319.2,687.1 L2324.1,687.1 L2328.9,687.2 L2333.7,687.3 L2338.4,687.6 L2343.1,687.9 L2347.8,688.4 L2352.5,689.1 L2357.1,690.1 L2361.8,691.2 L2366.4,692.6 L2371.2,694.4 L2376.3,696.8 L2381.6,699.6 L2386.9,702.5 L2392.1,705.6 L2397.0,708.7 L2401.6,711.6 L2405.7,714.2 L2409.1,716.4 L2411.8,718.0" stroke-width="4"/><path d="M2192.9,667.8 l-6.9,12.2 M2203.1,676.9 l-6.9,12.2 M2214.6,684.1 l-3.9,13.4 M2227.7,688.0 l-2.2,13.8 M2241.1,690.4 l-1.6,13.9 M2254.7,691.9 l-0.8,14.0 M2268.3,692.6 l-0.3,14.0 M2281.9,691.8 l1.2,13.9 M2295.4,689.7 l1.7,13.9 M2308.9,687.7 l1.3,13.9 M2322.5,687.1 l-0.0,14.0 M2336.2,687.4 l-0.5,14.0 M2349.7,688.7 l-1.6,13.9 M2363.1,691.6 l-3.1,13.7 M2375.8,696.6 l-4.5,13.3 M2387.8,703.1 l-5.5,12.9 M2399.4,710.2 l-5.8,12.7 M2410.9,717.5 l-5.5,12.9" stroke-width="3.4"/><path d="M1990.6,808.8 L1992.2,809.6 L1994.1,810.8 L1996.3,812.1 L1998.8,813.7 L2001.5,815.3 L2004.5,816.9 L2007.7,818.4 L2011.0,819.7 L2014.4,820.8 L2017.9,821.5 L2021.6,822.0 L2025.5,822.3 L2029.6,822.4 L2034.0,822.4 L2038.4,822.3 L2043.0,822.0 L2047.6,821.6 L2052.2,821.1 L2056.8,820.5 L2061.4,819.7 L2066.0,818.7 L2070.6,817.5 L2075.3,816.1 L2080.0,814.6 L2084.8,812.9 L2089.5,811.2 L2094.3,809.6 L2099.1,808.0 L2103.9,806.5 L2108.6,805.2 L2113.4,804.0 L2118.2,802.7 L2123.1,801.5 L2128.0,800.3 L2132.9,799.2 L2137.7,798.2 L2142.4,797.3 L2147.1,796.7 L2151.5,796.2 L2155.8,796.1 L2159.9,796.2 L2164.0,796.7 L2167.9,797.3 L2171.7,798.2 L2175.4,799.2 L2179.0,800.3 L2182.5,801.5 L2185.8,802.7 L2189.0,804.0 L2192.1,805.2 L2195.1,806.5 L2198.0,808.0 L2200.9,809.6 L2203.6,811.3 L2206.2,813.0 L2208.6,814.7 L2210.8,816.2 L2212.7,817.6 L2214.4,818.8 L2215.7,819.7" stroke-width="4"/><path d="M1991.5,809.3 l-5.0,13.1 M2003.4,816.3 l-5.1,13.0 M2016.3,821.2 l-2.2,13.8 M2030.0,822.4 l-0.0,14.0 M2043.8,822.0 l0.9,14.0 M2057.6,820.3 l1.7,13.9 M2071.1,817.4 l3.1,13.7 M2084.2,813.1 l3.5,13.6 M2097.3,808.6 l3.4,13.6 M2110.5,804.7 l2.6,13.8 M2123.9,801.3 l2.5,13.8 M2137.4,798.2 l2.1,13.8 M2151.1,796.3 l1.0,14.0 M2164.9,796.8 l-1.7,13.9 M2178.3,800.1 l-3.2,13.6 M2191.3,804.9 l-3.9,13.4 M2203.5,811.3 l-5.7,12.8 M2214.9,819.2 l-6.0,12.7" stroke-width="3.4"/><path d="M1870.8,881.4 L1872.1,883.1 L1873.7,885.2 L1875.5,887.8 L1877.6,890.8 L1879.9,893.9 L1882.4,897.1 L1885.1,900.2 L1888.0,903.3 L1891.1,906.1 L1894.4,908.6 L1897.9,910.8 L1901.7,913.0 L1905.8,915.1 L1910.1,917.1 L1914.5,919.1 L1919.1,920.9 L1923.8,922.6 L1928.5,924.1 L1933.3,925.5 L1938.0,926.8 L1942.9,927.8 L1947.9,928.5 L1953.2,929.0 L1958.5,929.4 L1963.9,929.6 L1969.2,929.9 L1974.4,930.2 L1979.5,930.6 L1984.3,931.3 L1988.8,932.2 L1993.0,933.3 L1996.9,934.4 L2000.5,935.5 L2004.0,936.8 L2007.4,938.1 L2010.8,939.7 L2014.1,941.5 L2017.6,943.5 L2021.2,945.9 L2025.1,948.6 L2029.4,951.9 L2034.1,956.0 L2039.0,960.6 L2044.1,965.5 L2049.2,970.5 L2054.0,975.4 L2058.6,980.1 L2062.7,984.2 L2066.1,987.7 L2068.7,990.3" stroke-width="4"/><path d="M1871.4,882.2 l-8.9,10.8 M1879.5,893.3 l-9.2,10.6 M1888.4,903.7 l-7.4,11.9 M1899.5,911.7 l-5.3,12.9 M1911.8,917.9 l-4.2,13.3 M1924.6,922.8 l-3.3,13.6 M1937.7,926.7 l-2.7,13.7 M1951.3,928.8 l-1.0,14.0 M1965.0,929.7 l-0.5,14.0 M1978.7,930.6 l-0.9,14.0 M1992.1,933.1 l-2.6,13.7 M2005.2,937.2 l-4.0,13.4 M2017.4,943.4 l-5.5,12.9 M2028.6,951.4 l-6.7,12.3 M2038.9,960.5 l-7.5,11.8 M2048.7,970.0 l-7.8,11.6 M2058.4,979.8 l-8.0,11.5 M2068.0,989.6 l-7.8,11.6" stroke-width="3.4"/><path d="M2192.1,979.4 L2194.7,979.6 L2198.0,980.0 L2202.0,980.5 L2206.4,981.0 L2211.2,981.5 L2216.2,981.9 L2221.2,982.1 L2226.3,982.2 L2231.1,981.9 L2235.7,981.3 L2240.1,980.3 L2244.5,979.1 L2248.9,977.7 L2253.3,976.0 L2257.7,974.1 L2262.1,972.1 L2266.5,970.0 L2270.8,967.8 L2275.1,965.5 L2279.3,963.1 L2283.4,960.6 L2287.5,957.7 L2291.5,954.7 L2295.5,951.5 L2299.5,948.3 L2303.4,945.1 L2307.3,942.0 L2311.3,939.1 L2315.2,936.4 L2319.2,934.0 L2323.1,931.9 L2327.0,929.8 L2330.8,927.9 L2334.5,926.2 L2338.3,924.6 L2342.2,923.2 L2346.2,921.9 L2350.3,920.9 L2354.6,920.1 L2359.1,919.5 L2364.1,919.3 L2369.7,919.4 L2375.6,919.9 L2381.8,920.5 L2387.9,921.3 L2393.9,922.2 L2399.5,923.1 L2404.4,923.9 L2408.6,924.6 L2411.8,925.0" stroke-width="4"/><path d="M2193.1,979.5 l-0.8,14.0 M2206.8,981.0 l-1.1,14.0 M2220.6,982.1 l-0.5,14.0 M2234.3,981.5 l1.4,13.9 M2247.7,978.1 l3.3,13.6 M2260.5,972.9 l4.4,13.3 M2272.8,966.7 l5.1,13.0 M2284.7,959.7 l6.2,12.6 M2295.7,951.4 l6.9,12.2 M2306.4,942.7 l6.8,12.2 M2317.7,934.9 l5.5,12.9 M2329.9,928.4 l4.8,13.2 M2342.6,923.0 l3.2,13.6 M2356.0,919.9 l1.3,13.9 M2369.8,919.4 l-0.8,14.0 M2383.5,920.8 l-1.4,13.9 M2397.2,922.8 l-1.7,13.9 M2410.8,924.9 l-1.4,13.9" stroke-width="3.4"/></g>
<g font-family="'Liberation Serif',serif" font-size="85" style="font-kerning:none" fill="#1a1a1a" stroke="#1a1a1a" stroke-width="0.6"><text x="-1.0" y="58.0" font-size="84.8">Ribonuclease targeting chimera (RIBOTAC)</text><text x="1804.0" y="316.5">Ligand for the RNA</text><text x="2874.0" y="316.5">Ligand for the E3 ligase</text><text x="1573.0" y="2607.5">RNase L recruitment</text><text x="1979.0" y="1139.0">RNA degradation</text><text x="127.0" y="1056.5">RNA</text><text x="750.0" y="1097.5">RIBOTAC</text></g>
</svg>
</body></html>
